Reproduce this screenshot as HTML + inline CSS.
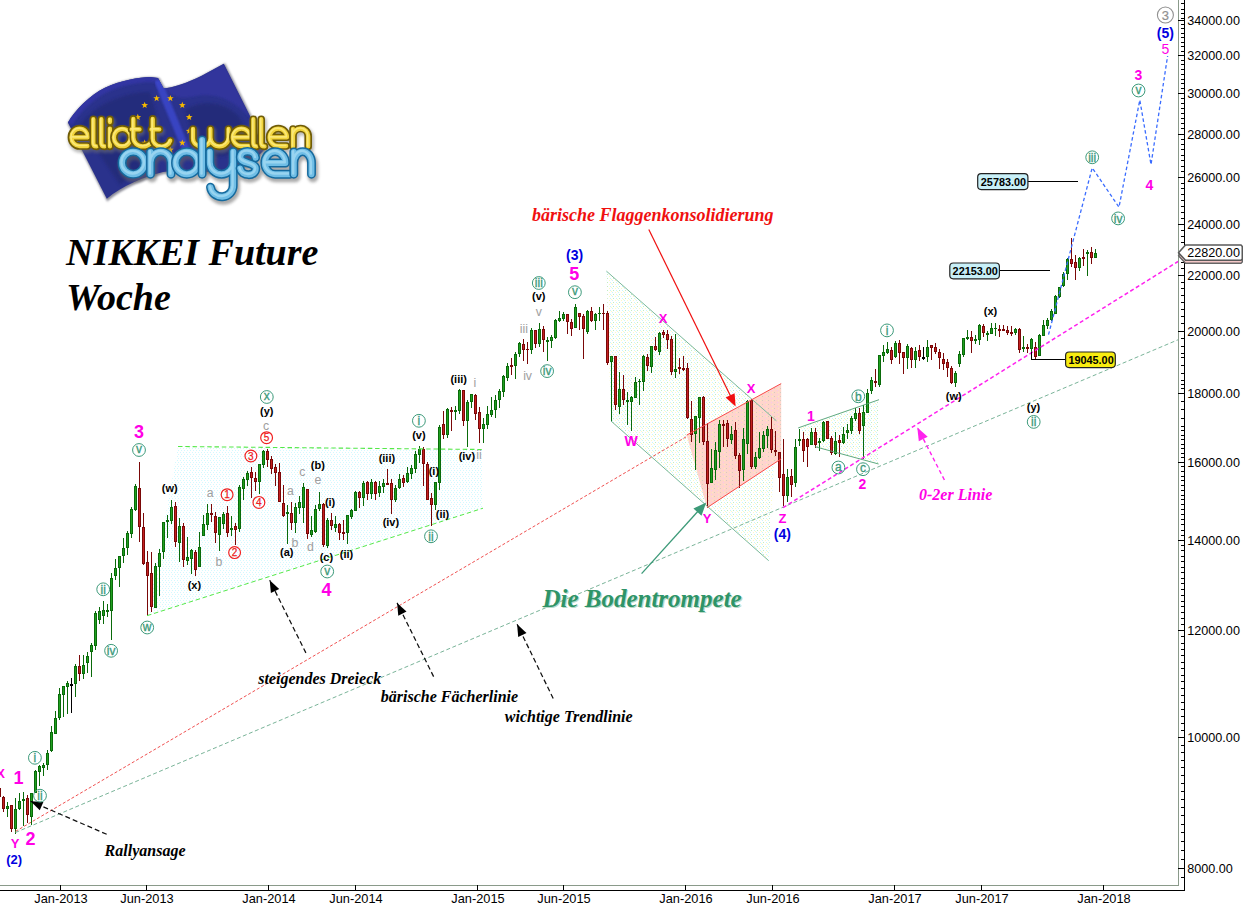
<!DOCTYPE html>
<html><head><meta charset="utf-8"><title>NIKKEI Future Woche</title>
<style>
html,body{margin:0;padding:0;background:#fff;}
body{width:1243px;height:907px;overflow:hidden;font-family:"Liberation Sans",sans-serif;}
svg{display:block;}
svg text{font-family:"Liberation Sans",sans-serif;}
svg text.sf{font-family:"Liberation Serif",serif;font-weight:bold;font-style:italic;}
</style></head><body>
<svg width="1243" height="907" viewBox="0 0 1243 907">
<defs>
<pattern id="pcyan" width="6" height="4" patternUnits="userSpaceOnUse"><rect width="6" height="4" fill="#fff"/><g fill="#d2f9fe" shape-rendering="crispEdges"><rect x="0" y="0" width="1" height="1"/><rect x="3" y="0" width="1" height="1"/><rect x="1" y="2" width="1" height="1"/><rect x="4" y="2" width="1" height="1"/></g></pattern>
<pattern id="pgreen" width="6" height="4" patternUnits="userSpaceOnUse"><rect width="6" height="4" fill="#fff"/><g shape-rendering="crispEdges"><rect x="0" y="0" width="1" height="1" fill="#c8f6fc"/><rect x="3" y="0" width="1" height="1" fill="#fcfac4"/><rect x="1" y="2" width="1" height="1" fill="#c0eec0"/><rect x="4" y="2" width="1" height="1" fill="#c8f6fc"/><rect x="5" y="3" width="1" height="1" fill="#fcfac4"/></g></pattern>
<pattern id="ppink" width="6" height="4" patternUnits="userSpaceOnUse"><rect width="6" height="4" fill="#ffd5cb"/><g shape-rendering="crispEdges"><rect x="0" y="0" width="1" height="1" fill="#d4ccc0"/><rect x="3" y="2" width="1" height="1" fill="#f8c8ec"/><rect x="4" y="0" width="1" height="1" fill="#fde8c0"/></g></pattern>
</defs>
<polygon points="147,616 178,446.5 483,449.5 483,508.2" fill="url(#pcyan)"/>
<polygon points="606.4,271.1 776.4,420.8 768.7,560.7 611,421" fill="url(#pgreen)"/>
<polygon points="686.7,435.1 781.2,383.6 781.2,458.8 707,507.7" fill="url(#ppink)"/>
<polygon points="798.2,427.9 879,399.7 879,464 815,446.7" fill="url(#pgreen)"/>
<g shape-rendering="crispEdges">
<rect x="-1" y="788" width="1" height="9" fill="#7a0808"/>
<rect x="-2" y="788" width="3" height="9" fill="#7a0808"/>
<rect x="-1" y="789" width="1" height="7" fill="#c42020"/>
<rect x="3" y="796" width="1" height="16" fill="#7a0808"/>
<rect x="2" y="797" width="3" height="12" fill="#7a0808"/>
<rect x="3" y="798" width="1" height="10" fill="#c42020"/>
<rect x="7" y="802" width="1" height="15" fill="#0a6a0a"/>
<rect x="6" y="806" width="3" height="3" fill="#0a6a0a"/>
<rect x="7" y="807" width="1" height="1" fill="#1fa01f"/>
<rect x="11" y="805" width="1" height="27" fill="#7a0808"/>
<rect x="10" y="805" width="3" height="24" fill="#7a0808"/>
<rect x="11" y="806" width="1" height="22" fill="#c42020"/>
<rect x="15" y="798" width="1" height="36" fill="#0a6a0a"/>
<rect x="14" y="809" width="3" height="20" fill="#0a6a0a"/>
<rect x="15" y="810" width="1" height="18" fill="#1fa01f"/>
<rect x="19" y="793" width="1" height="17" fill="#0a6a0a"/>
<rect x="18" y="801" width="3" height="8" fill="#0a6a0a"/>
<rect x="19" y="802" width="1" height="6" fill="#1fa01f"/>
<rect x="23" y="792" width="1" height="34" fill="#0a6a0a"/>
<rect x="22" y="799" width="3" height="2" fill="#0a6a0a"/>
<rect x="27" y="795" width="1" height="28" fill="#7a0808"/>
<rect x="26" y="798" width="3" height="17" fill="#7a0808"/>
<rect x="27" y="799" width="1" height="15" fill="#c42020"/>
<rect x="31" y="793" width="1" height="32" fill="#0a6a0a"/>
<rect x="30" y="793" width="3" height="24" fill="#0a6a0a"/>
<rect x="31" y="794" width="1" height="22" fill="#1fa01f"/>
<rect x="35" y="770" width="1" height="23" fill="#0a6a0a"/>
<rect x="34" y="771" width="3" height="22" fill="#0a6a0a"/>
<rect x="35" y="772" width="1" height="20" fill="#1fa01f"/>
<rect x="39" y="765" width="1" height="21" fill="#0a6a0a"/>
<rect x="38" y="766" width="3" height="6" fill="#0a6a0a"/>
<rect x="39" y="767" width="1" height="4" fill="#1fa01f"/>
<rect x="43" y="763" width="1" height="13" fill="#0a6a0a"/>
<rect x="42" y="765" width="3" height="3" fill="#0a6a0a"/>
<rect x="43" y="766" width="1" height="1" fill="#1fa01f"/>
<rect x="47" y="750" width="1" height="20" fill="#0a6a0a"/>
<rect x="46" y="753" width="3" height="12" fill="#0a6a0a"/>
<rect x="47" y="754" width="1" height="10" fill="#1fa01f"/>
<rect x="51" y="726" width="1" height="26" fill="#0a6a0a"/>
<rect x="50" y="732" width="3" height="19" fill="#0a6a0a"/>
<rect x="51" y="733" width="1" height="17" fill="#1fa01f"/>
<rect x="55" y="711" width="1" height="23" fill="#0a6a0a"/>
<rect x="54" y="718" width="3" height="16" fill="#0a6a0a"/>
<rect x="55" y="719" width="1" height="14" fill="#1fa01f"/>
<rect x="59" y="688" width="1" height="32" fill="#0a6a0a"/>
<rect x="58" y="694" width="3" height="24" fill="#0a6a0a"/>
<rect x="59" y="695" width="1" height="22" fill="#1fa01f"/>
<rect x="63" y="686" width="1" height="31" fill="#0a6a0a"/>
<rect x="62" y="686" width="3" height="9" fill="#0a6a0a"/>
<rect x="63" y="687" width="1" height="7" fill="#1fa01f"/>
<rect x="67" y="681" width="1" height="33" fill="#0a6a0a"/>
<rect x="66" y="683" width="3" height="4" fill="#0a6a0a"/>
<rect x="67" y="684" width="1" height="2" fill="#1fa01f"/>
<rect x="71" y="678" width="1" height="35" fill="#000"/>
<rect x="70" y="684" width="3" height="2" fill="#000"/>
<rect x="75" y="664" width="1" height="33" fill="#0a6a0a"/>
<rect x="74" y="666" width="3" height="18" fill="#0a6a0a"/>
<rect x="75" y="667" width="1" height="16" fill="#1fa01f"/>
<rect x="79" y="655" width="1" height="26" fill="#7a0808"/>
<rect x="78" y="666" width="3" height="8" fill="#7a0808"/>
<rect x="79" y="667" width="1" height="6" fill="#c42020"/>
<rect x="83" y="655" width="1" height="24" fill="#0a6a0a"/>
<rect x="82" y="665" width="3" height="9" fill="#0a6a0a"/>
<rect x="83" y="666" width="1" height="7" fill="#1fa01f"/>
<rect x="87" y="652" width="1" height="21" fill="#0a6a0a"/>
<rect x="86" y="656" width="3" height="7" fill="#0a6a0a"/>
<rect x="87" y="657" width="1" height="5" fill="#1fa01f"/>
<rect x="91" y="643" width="1" height="34" fill="#0a6a0a"/>
<rect x="90" y="645" width="3" height="7" fill="#0a6a0a"/>
<rect x="91" y="646" width="1" height="5" fill="#1fa01f"/>
<rect x="95" y="611" width="1" height="39" fill="#0a6a0a"/>
<rect x="94" y="613" width="3" height="33" fill="#0a6a0a"/>
<rect x="95" y="614" width="1" height="31" fill="#1fa01f"/>
<rect x="99" y="607" width="1" height="17" fill="#0a6a0a"/>
<rect x="98" y="611" width="3" height="9" fill="#0a6a0a"/>
<rect x="99" y="612" width="1" height="7" fill="#1fa01f"/>
<rect x="103" y="601" width="1" height="23" fill="#0a6a0a"/>
<rect x="102" y="610" width="3" height="6" fill="#0a6a0a"/>
<rect x="103" y="611" width="1" height="4" fill="#1fa01f"/>
<rect x="107" y="604" width="1" height="13" fill="#0a6a0a"/>
<rect x="106" y="610" width="3" height="2" fill="#0a6a0a"/>
<rect x="111" y="573" width="1" height="67" fill="#0a6a0a"/>
<rect x="110" y="578" width="3" height="33" fill="#0a6a0a"/>
<rect x="111" y="579" width="1" height="31" fill="#1fa01f"/>
<rect x="115" y="559" width="1" height="21" fill="#0a6a0a"/>
<rect x="114" y="568" width="3" height="8" fill="#0a6a0a"/>
<rect x="115" y="569" width="1" height="6" fill="#1fa01f"/>
<rect x="119" y="556" width="1" height="31" fill="#0a6a0a"/>
<rect x="118" y="556" width="3" height="12" fill="#0a6a0a"/>
<rect x="119" y="557" width="1" height="10" fill="#1fa01f"/>
<rect x="123" y="538" width="1" height="25" fill="#0a6a0a"/>
<rect x="122" y="548" width="3" height="8" fill="#0a6a0a"/>
<rect x="123" y="549" width="1" height="6" fill="#1fa01f"/>
<rect x="127" y="531" width="1" height="24" fill="#0a6a0a"/>
<rect x="126" y="533" width="3" height="15" fill="#0a6a0a"/>
<rect x="127" y="534" width="1" height="13" fill="#1fa01f"/>
<rect x="131" y="507" width="1" height="31" fill="#0a6a0a"/>
<rect x="130" y="509" width="3" height="25" fill="#0a6a0a"/>
<rect x="131" y="510" width="1" height="23" fill="#1fa01f"/>
<rect x="135" y="484" width="1" height="27" fill="#0a6a0a"/>
<rect x="134" y="486" width="3" height="24" fill="#0a6a0a"/>
<rect x="135" y="487" width="1" height="22" fill="#1fa01f"/>
<rect x="139" y="462" width="1" height="80" fill="#7a0808"/>
<rect x="138" y="488" width="3" height="39" fill="#7a0808"/>
<rect x="139" y="489" width="1" height="37" fill="#c42020"/>
<rect x="143" y="513" width="1" height="52" fill="#7a0808"/>
<rect x="142" y="527" width="3" height="37" fill="#7a0808"/>
<rect x="143" y="528" width="1" height="35" fill="#c42020"/>
<rect x="147" y="551" width="1" height="65" fill="#7a0808"/>
<rect x="146" y="562" width="3" height="14" fill="#7a0808"/>
<rect x="147" y="563" width="1" height="12" fill="#c42020"/>
<rect x="151" y="552" width="1" height="60" fill="#7a0808"/>
<rect x="150" y="573" width="3" height="34" fill="#7a0808"/>
<rect x="151" y="574" width="1" height="32" fill="#c42020"/>
<rect x="155" y="563" width="1" height="45" fill="#0a6a0a"/>
<rect x="154" y="566" width="3" height="42" fill="#0a6a0a"/>
<rect x="155" y="567" width="1" height="40" fill="#1fa01f"/>
<rect x="159" y="549" width="1" height="47" fill="#0a6a0a"/>
<rect x="158" y="553" width="3" height="14" fill="#0a6a0a"/>
<rect x="159" y="554" width="1" height="12" fill="#1fa01f"/>
<rect x="163" y="522" width="1" height="37" fill="#0a6a0a"/>
<rect x="162" y="522" width="3" height="30" fill="#0a6a0a"/>
<rect x="163" y="523" width="1" height="28" fill="#1fa01f"/>
<rect x="167" y="515" width="1" height="23" fill="#0a6a0a"/>
<rect x="166" y="520" width="3" height="2" fill="#0a6a0a"/>
<rect x="171" y="500" width="1" height="24" fill="#0a6a0a"/>
<rect x="170" y="507" width="3" height="14" fill="#0a6a0a"/>
<rect x="171" y="508" width="1" height="12" fill="#1fa01f"/>
<rect x="175" y="502" width="1" height="45" fill="#7a0808"/>
<rect x="174" y="506" width="3" height="36" fill="#7a0808"/>
<rect x="175" y="507" width="1" height="34" fill="#c42020"/>
<rect x="179" y="518" width="1" height="44" fill="#0a6a0a"/>
<rect x="178" y="526" width="3" height="17" fill="#0a6a0a"/>
<rect x="179" y="527" width="1" height="15" fill="#1fa01f"/>
<rect x="183" y="523" width="1" height="44" fill="#7a0808"/>
<rect x="182" y="526" width="3" height="34" fill="#7a0808"/>
<rect x="183" y="527" width="1" height="32" fill="#c42020"/>
<rect x="187" y="537" width="1" height="28" fill="#0a6a0a"/>
<rect x="186" y="557" width="3" height="4" fill="#0a6a0a"/>
<rect x="187" y="558" width="1" height="2" fill="#1fa01f"/>
<rect x="191" y="549" width="1" height="25" fill="#0a6a0a"/>
<rect x="190" y="550" width="3" height="9" fill="#0a6a0a"/>
<rect x="191" y="551" width="1" height="7" fill="#1fa01f"/>
<rect x="195" y="550" width="1" height="26" fill="#7a0808"/>
<rect x="194" y="552" width="3" height="18" fill="#7a0808"/>
<rect x="195" y="553" width="1" height="16" fill="#c42020"/>
<rect x="199" y="532" width="1" height="35" fill="#0a6a0a"/>
<rect x="198" y="547" width="3" height="20" fill="#0a6a0a"/>
<rect x="199" y="548" width="1" height="18" fill="#1fa01f"/>
<rect x="203" y="515" width="1" height="21" fill="#0a6a0a"/>
<rect x="202" y="524" width="3" height="12" fill="#0a6a0a"/>
<rect x="203" y="525" width="1" height="10" fill="#1fa01f"/>
<rect x="207" y="504" width="1" height="26" fill="#0a6a0a"/>
<rect x="206" y="513" width="3" height="12" fill="#0a6a0a"/>
<rect x="207" y="514" width="1" height="10" fill="#1fa01f"/>
<rect x="211" y="504" width="1" height="18" fill="#7a0808"/>
<rect x="210" y="513" width="3" height="2" fill="#7a0808"/>
<rect x="215" y="512" width="1" height="31" fill="#7a0808"/>
<rect x="214" y="516" width="3" height="17" fill="#7a0808"/>
<rect x="215" y="517" width="1" height="15" fill="#c42020"/>
<rect x="219" y="517" width="1" height="34" fill="#0a6a0a"/>
<rect x="218" y="517" width="3" height="18" fill="#0a6a0a"/>
<rect x="219" y="518" width="1" height="16" fill="#1fa01f"/>
<rect x="223" y="512" width="1" height="17" fill="#0a6a0a"/>
<rect x="222" y="514" width="3" height="10" fill="#0a6a0a"/>
<rect x="223" y="515" width="1" height="8" fill="#1fa01f"/>
<rect x="227" y="506" width="1" height="31" fill="#7a0808"/>
<rect x="226" y="513" width="3" height="20" fill="#7a0808"/>
<rect x="227" y="514" width="1" height="18" fill="#c42020"/>
<rect x="231" y="516" width="1" height="20" fill="#0a6a0a"/>
<rect x="230" y="528" width="3" height="2" fill="#0a6a0a"/>
<rect x="235" y="523" width="1" height="22" fill="#7a0808"/>
<rect x="234" y="526" width="3" height="4" fill="#7a0808"/>
<rect x="235" y="527" width="1" height="2" fill="#c42020"/>
<rect x="239" y="485" width="1" height="47" fill="#0a6a0a"/>
<rect x="238" y="487" width="3" height="42" fill="#0a6a0a"/>
<rect x="239" y="488" width="1" height="40" fill="#1fa01f"/>
<rect x="243" y="477" width="1" height="23" fill="#0a6a0a"/>
<rect x="242" y="479" width="3" height="10" fill="#0a6a0a"/>
<rect x="243" y="480" width="1" height="8" fill="#1fa01f"/>
<rect x="247" y="471" width="1" height="15" fill="#0a6a0a"/>
<rect x="246" y="473" width="3" height="7" fill="#0a6a0a"/>
<rect x="247" y="474" width="1" height="5" fill="#1fa01f"/>
<rect x="251" y="467" width="1" height="31" fill="#7a0808"/>
<rect x="250" y="472" width="3" height="6" fill="#7a0808"/>
<rect x="251" y="473" width="1" height="4" fill="#c42020"/>
<rect x="255" y="472" width="1" height="19" fill="#7a0808"/>
<rect x="254" y="478" width="3" height="4" fill="#7a0808"/>
<rect x="255" y="479" width="1" height="2" fill="#c42020"/>
<rect x="259" y="464" width="1" height="30" fill="#0a6a0a"/>
<rect x="258" y="464" width="3" height="18" fill="#0a6a0a"/>
<rect x="259" y="465" width="1" height="16" fill="#1fa01f"/>
<rect x="263" y="450" width="1" height="18" fill="#0a6a0a"/>
<rect x="262" y="451" width="3" height="14" fill="#0a6a0a"/>
<rect x="263" y="452" width="1" height="12" fill="#1fa01f"/>
<rect x="267" y="449" width="1" height="18" fill="#7a0808"/>
<rect x="266" y="451" width="3" height="9" fill="#7a0808"/>
<rect x="267" y="452" width="1" height="7" fill="#c42020"/>
<rect x="271" y="456" width="1" height="18" fill="#7a0808"/>
<rect x="270" y="459" width="3" height="10" fill="#7a0808"/>
<rect x="271" y="460" width="1" height="8" fill="#c42020"/>
<rect x="275" y="464" width="1" height="22" fill="#7a0808"/>
<rect x="274" y="467" width="3" height="6" fill="#7a0808"/>
<rect x="275" y="468" width="1" height="4" fill="#c42020"/>
<rect x="279" y="463" width="1" height="39" fill="#7a0808"/>
<rect x="278" y="472" width="3" height="30" fill="#7a0808"/>
<rect x="279" y="473" width="1" height="28" fill="#c42020"/>
<rect x="283" y="485" width="1" height="32" fill="#7a0808"/>
<rect x="282" y="503" width="3" height="13" fill="#7a0808"/>
<rect x="283" y="504" width="1" height="11" fill="#c42020"/>
<rect x="287" y="505" width="1" height="39" fill="#0a6a0a"/>
<rect x="286" y="512" width="3" height="2" fill="#0a6a0a"/>
<rect x="291" y="502" width="1" height="28" fill="#7a0808"/>
<rect x="290" y="513" width="3" height="10" fill="#7a0808"/>
<rect x="291" y="514" width="1" height="8" fill="#c42020"/>
<rect x="295" y="503" width="1" height="30" fill="#0a6a0a"/>
<rect x="294" y="507" width="3" height="16" fill="#0a6a0a"/>
<rect x="295" y="508" width="1" height="14" fill="#1fa01f"/>
<rect x="299" y="496" width="1" height="18" fill="#0a6a0a"/>
<rect x="298" y="502" width="3" height="6" fill="#0a6a0a"/>
<rect x="299" y="503" width="1" height="4" fill="#1fa01f"/>
<rect x="303" y="483" width="1" height="40" fill="#0a6a0a"/>
<rect x="302" y="487" width="3" height="21" fill="#0a6a0a"/>
<rect x="303" y="488" width="1" height="19" fill="#1fa01f"/>
<rect x="307" y="489" width="1" height="50" fill="#7a0808"/>
<rect x="306" y="489" width="3" height="45" fill="#7a0808"/>
<rect x="307" y="490" width="1" height="43" fill="#c42020"/>
<rect x="311" y="516" width="1" height="21" fill="#0a6a0a"/>
<rect x="310" y="530" width="3" height="5" fill="#0a6a0a"/>
<rect x="311" y="531" width="1" height="3" fill="#1fa01f"/>
<rect x="315" y="505" width="1" height="28" fill="#0a6a0a"/>
<rect x="314" y="509" width="3" height="23" fill="#0a6a0a"/>
<rect x="315" y="510" width="1" height="21" fill="#1fa01f"/>
<rect x="319" y="492" width="1" height="19" fill="#0a6a0a"/>
<rect x="318" y="504" width="3" height="5" fill="#0a6a0a"/>
<rect x="319" y="505" width="1" height="3" fill="#1fa01f"/>
<rect x="323" y="503" width="1" height="44" fill="#7a0808"/>
<rect x="322" y="504" width="3" height="41" fill="#7a0808"/>
<rect x="323" y="505" width="1" height="39" fill="#c42020"/>
<rect x="327" y="518" width="1" height="30" fill="#0a6a0a"/>
<rect x="326" y="520" width="3" height="26" fill="#0a6a0a"/>
<rect x="327" y="521" width="1" height="24" fill="#1fa01f"/>
<rect x="331" y="513" width="1" height="17" fill="#7a0808"/>
<rect x="330" y="520" width="3" height="6" fill="#7a0808"/>
<rect x="331" y="521" width="1" height="4" fill="#c42020"/>
<rect x="335" y="516" width="1" height="16" fill="#0a6a0a"/>
<rect x="334" y="524" width="3" height="4" fill="#0a6a0a"/>
<rect x="335" y="525" width="1" height="2" fill="#1fa01f"/>
<rect x="339" y="523" width="1" height="17" fill="#7a0808"/>
<rect x="338" y="524" width="3" height="9" fill="#7a0808"/>
<rect x="339" y="525" width="1" height="7" fill="#c42020"/>
<rect x="343" y="520" width="1" height="20" fill="#7a0808"/>
<rect x="342" y="532" width="3" height="2" fill="#7a0808"/>
<rect x="347" y="515" width="1" height="29" fill="#0a6a0a"/>
<rect x="346" y="515" width="3" height="18" fill="#0a6a0a"/>
<rect x="347" y="516" width="1" height="16" fill="#1fa01f"/>
<rect x="351" y="509" width="1" height="10" fill="#0a6a0a"/>
<rect x="350" y="510" width="3" height="7" fill="#0a6a0a"/>
<rect x="351" y="511" width="1" height="5" fill="#1fa01f"/>
<rect x="355" y="491" width="1" height="20" fill="#0a6a0a"/>
<rect x="354" y="492" width="3" height="19" fill="#0a6a0a"/>
<rect x="355" y="493" width="1" height="17" fill="#1fa01f"/>
<rect x="359" y="491" width="1" height="17" fill="#7a0808"/>
<rect x="358" y="492" width="3" height="6" fill="#7a0808"/>
<rect x="359" y="493" width="1" height="4" fill="#c42020"/>
<rect x="363" y="481" width="1" height="25" fill="#0a6a0a"/>
<rect x="362" y="483" width="3" height="15" fill="#0a6a0a"/>
<rect x="363" y="484" width="1" height="13" fill="#1fa01f"/>
<rect x="367" y="481" width="1" height="19" fill="#7a0808"/>
<rect x="366" y="482" width="3" height="12" fill="#7a0808"/>
<rect x="367" y="483" width="1" height="10" fill="#c42020"/>
<rect x="371" y="479" width="1" height="20" fill="#0a6a0a"/>
<rect x="370" y="482" width="3" height="12" fill="#0a6a0a"/>
<rect x="371" y="483" width="1" height="10" fill="#1fa01f"/>
<rect x="375" y="481" width="1" height="19" fill="#7a0808"/>
<rect x="374" y="482" width="3" height="12" fill="#7a0808"/>
<rect x="375" y="483" width="1" height="10" fill="#c42020"/>
<rect x="379" y="481" width="1" height="16" fill="#0a6a0a"/>
<rect x="378" y="486" width="3" height="7" fill="#0a6a0a"/>
<rect x="379" y="487" width="1" height="5" fill="#1fa01f"/>
<rect x="383" y="479" width="1" height="14" fill="#0a6a0a"/>
<rect x="382" y="483" width="3" height="4" fill="#0a6a0a"/>
<rect x="383" y="484" width="1" height="2" fill="#1fa01f"/>
<rect x="387" y="469" width="1" height="16" fill="#7a0808"/>
<rect x="386" y="483" width="3" height="2" fill="#7a0808"/>
<rect x="391" y="479" width="1" height="35" fill="#7a0808"/>
<rect x="390" y="483" width="3" height="17" fill="#7a0808"/>
<rect x="391" y="484" width="1" height="15" fill="#c42020"/>
<rect x="395" y="485" width="1" height="17" fill="#0a6a0a"/>
<rect x="394" y="488" width="3" height="12" fill="#0a6a0a"/>
<rect x="395" y="489" width="1" height="10" fill="#1fa01f"/>
<rect x="399" y="474" width="1" height="15" fill="#0a6a0a"/>
<rect x="398" y="479" width="3" height="9" fill="#0a6a0a"/>
<rect x="399" y="480" width="1" height="7" fill="#1fa01f"/>
<rect x="403" y="475" width="1" height="12" fill="#7a0808"/>
<rect x="402" y="478" width="3" height="5" fill="#7a0808"/>
<rect x="403" y="479" width="1" height="3" fill="#c42020"/>
<rect x="407" y="467" width="1" height="16" fill="#0a6a0a"/>
<rect x="406" y="473" width="3" height="9" fill="#0a6a0a"/>
<rect x="407" y="474" width="1" height="7" fill="#1fa01f"/>
<rect x="411" y="465" width="1" height="14" fill="#0a6a0a"/>
<rect x="410" y="468" width="3" height="6" fill="#0a6a0a"/>
<rect x="411" y="469" width="1" height="4" fill="#1fa01f"/>
<rect x="415" y="451" width="1" height="22" fill="#0a6a0a"/>
<rect x="414" y="454" width="3" height="15" fill="#0a6a0a"/>
<rect x="415" y="455" width="1" height="13" fill="#1fa01f"/>
<rect x="419" y="446" width="1" height="17" fill="#0a6a0a"/>
<rect x="418" y="449" width="3" height="6" fill="#0a6a0a"/>
<rect x="419" y="450" width="1" height="4" fill="#1fa01f"/>
<rect x="423" y="447" width="1" height="39" fill="#7a0808"/>
<rect x="422" y="449" width="3" height="15" fill="#7a0808"/>
<rect x="423" y="450" width="1" height="13" fill="#c42020"/>
<rect x="427" y="462" width="1" height="38" fill="#7a0808"/>
<rect x="426" y="464" width="3" height="36" fill="#7a0808"/>
<rect x="427" y="465" width="1" height="34" fill="#c42020"/>
<rect x="431" y="493" width="1" height="33" fill="#7a0808"/>
<rect x="430" y="498" width="3" height="7" fill="#7a0808"/>
<rect x="431" y="499" width="1" height="5" fill="#c42020"/>
<rect x="435" y="482" width="1" height="28" fill="#0a6a0a"/>
<rect x="434" y="482" width="3" height="23" fill="#0a6a0a"/>
<rect x="435" y="483" width="1" height="21" fill="#1fa01f"/>
<rect x="439" y="425" width="1" height="65" fill="#0a6a0a"/>
<rect x="438" y="427" width="3" height="56" fill="#0a6a0a"/>
<rect x="439" y="428" width="1" height="54" fill="#1fa01f"/>
<rect x="443" y="411" width="1" height="28" fill="#7a0808"/>
<rect x="442" y="424" width="3" height="11" fill="#7a0808"/>
<rect x="443" y="425" width="1" height="9" fill="#c42020"/>
<rect x="447" y="408" width="1" height="30" fill="#0a6a0a"/>
<rect x="446" y="409" width="3" height="26" fill="#0a6a0a"/>
<rect x="447" y="410" width="1" height="24" fill="#1fa01f"/>
<rect x="451" y="407" width="1" height="24" fill="#7a0808"/>
<rect x="450" y="410" width="3" height="2" fill="#7a0808"/>
<rect x="455" y="406" width="1" height="14" fill="#0a6a0a"/>
<rect x="454" y="410" width="3" height="2" fill="#0a6a0a"/>
<rect x="459" y="389" width="1" height="25" fill="#0a6a0a"/>
<rect x="458" y="390" width="3" height="21" fill="#0a6a0a"/>
<rect x="459" y="391" width="1" height="19" fill="#1fa01f"/>
<rect x="463" y="390" width="1" height="36" fill="#7a0808"/>
<rect x="462" y="390" width="3" height="31" fill="#7a0808"/>
<rect x="463" y="391" width="1" height="29" fill="#c42020"/>
<rect x="467" y="400" width="1" height="47" fill="#0a6a0a"/>
<rect x="466" y="402" width="3" height="19" fill="#0a6a0a"/>
<rect x="467" y="403" width="1" height="17" fill="#1fa01f"/>
<rect x="471" y="394" width="1" height="14" fill="#0a6a0a"/>
<rect x="470" y="394" width="3" height="8" fill="#0a6a0a"/>
<rect x="471" y="395" width="1" height="6" fill="#1fa01f"/>
<rect x="475" y="394" width="1" height="26" fill="#7a0808"/>
<rect x="474" y="395" width="3" height="19" fill="#7a0808"/>
<rect x="475" y="396" width="1" height="17" fill="#c42020"/>
<rect x="479" y="407" width="1" height="36" fill="#7a0808"/>
<rect x="478" y="412" width="3" height="17" fill="#7a0808"/>
<rect x="479" y="413" width="1" height="15" fill="#c42020"/>
<rect x="483" y="418" width="1" height="25" fill="#0a6a0a"/>
<rect x="482" y="424" width="3" height="5" fill="#0a6a0a"/>
<rect x="483" y="425" width="1" height="3" fill="#1fa01f"/>
<rect x="487" y="406" width="1" height="23" fill="#0a6a0a"/>
<rect x="486" y="414" width="3" height="11" fill="#0a6a0a"/>
<rect x="487" y="415" width="1" height="9" fill="#1fa01f"/>
<rect x="491" y="397" width="1" height="20" fill="#0a6a0a"/>
<rect x="490" y="410" width="3" height="5" fill="#0a6a0a"/>
<rect x="491" y="411" width="1" height="3" fill="#1fa01f"/>
<rect x="495" y="395" width="1" height="23" fill="#0a6a0a"/>
<rect x="494" y="400" width="3" height="10" fill="#0a6a0a"/>
<rect x="495" y="401" width="1" height="8" fill="#1fa01f"/>
<rect x="499" y="389" width="1" height="19" fill="#0a6a0a"/>
<rect x="498" y="391" width="3" height="9" fill="#0a6a0a"/>
<rect x="499" y="392" width="1" height="7" fill="#1fa01f"/>
<rect x="503" y="375" width="1" height="22" fill="#0a6a0a"/>
<rect x="502" y="376" width="3" height="16" fill="#0a6a0a"/>
<rect x="503" y="377" width="1" height="14" fill="#1fa01f"/>
<rect x="507" y="363" width="1" height="18" fill="#0a6a0a"/>
<rect x="506" y="366" width="3" height="12" fill="#0a6a0a"/>
<rect x="507" y="367" width="1" height="10" fill="#1fa01f"/>
<rect x="511" y="358" width="1" height="17" fill="#7a0808"/>
<rect x="510" y="365" width="3" height="2" fill="#7a0808"/>
<rect x="515" y="352" width="1" height="27" fill="#0a6a0a"/>
<rect x="514" y="354" width="3" height="12" fill="#0a6a0a"/>
<rect x="515" y="355" width="1" height="10" fill="#1fa01f"/>
<rect x="519" y="342" width="1" height="15" fill="#0a6a0a"/>
<rect x="518" y="343" width="3" height="11" fill="#0a6a0a"/>
<rect x="519" y="344" width="1" height="9" fill="#1fa01f"/>
<rect x="523" y="339" width="1" height="22" fill="#7a0808"/>
<rect x="522" y="344" width="3" height="6" fill="#7a0808"/>
<rect x="523" y="345" width="1" height="4" fill="#c42020"/>
<rect x="527" y="342" width="1" height="22" fill="#7a0808"/>
<rect x="526" y="349" width="3" height="1" fill="#7a0808"/>
<rect x="531" y="328" width="1" height="26" fill="#0a6a0a"/>
<rect x="530" y="330" width="3" height="20" fill="#0a6a0a"/>
<rect x="531" y="331" width="1" height="18" fill="#1fa01f"/>
<rect x="535" y="330" width="1" height="18" fill="#7a0808"/>
<rect x="534" y="330" width="3" height="14" fill="#7a0808"/>
<rect x="535" y="331" width="1" height="12" fill="#c42020"/>
<rect x="539" y="323" width="1" height="24" fill="#0a6a0a"/>
<rect x="538" y="329" width="3" height="15" fill="#0a6a0a"/>
<rect x="539" y="330" width="1" height="13" fill="#1fa01f"/>
<rect x="543" y="326" width="1" height="26" fill="#7a0808"/>
<rect x="542" y="329" width="3" height="11" fill="#7a0808"/>
<rect x="543" y="330" width="1" height="9" fill="#c42020"/>
<rect x="547" y="337" width="1" height="24" fill="#0a6a0a"/>
<rect x="546" y="340" width="3" height="2" fill="#0a6a0a"/>
<rect x="551" y="335" width="1" height="13" fill="#0a6a0a"/>
<rect x="550" y="337" width="3" height="4" fill="#0a6a0a"/>
<rect x="551" y="338" width="1" height="2" fill="#1fa01f"/>
<rect x="555" y="319" width="1" height="20" fill="#0a6a0a"/>
<rect x="554" y="320" width="3" height="18" fill="#0a6a0a"/>
<rect x="555" y="321" width="1" height="16" fill="#1fa01f"/>
<rect x="559" y="311" width="1" height="11" fill="#0a6a0a"/>
<rect x="558" y="318" width="3" height="3" fill="#0a6a0a"/>
<rect x="559" y="319" width="1" height="1" fill="#1fa01f"/>
<rect x="563" y="312" width="1" height="9" fill="#0a6a0a"/>
<rect x="562" y="314" width="3" height="5" fill="#0a6a0a"/>
<rect x="563" y="315" width="1" height="3" fill="#1fa01f"/>
<rect x="567" y="314" width="1" height="20" fill="#7a0808"/>
<rect x="566" y="314" width="3" height="8" fill="#7a0808"/>
<rect x="567" y="315" width="1" height="6" fill="#c42020"/>
<rect x="571" y="319" width="1" height="17" fill="#7a0808"/>
<rect x="570" y="322" width="3" height="7" fill="#7a0808"/>
<rect x="571" y="323" width="1" height="5" fill="#c42020"/>
<rect x="575" y="304" width="1" height="24" fill="#0a6a0a"/>
<rect x="574" y="307" width="3" height="21" fill="#0a6a0a"/>
<rect x="575" y="308" width="1" height="19" fill="#1fa01f"/>
<rect x="579" y="313" width="1" height="17" fill="#7a0808"/>
<rect x="578" y="313" width="3" height="4" fill="#7a0808"/>
<rect x="579" y="314" width="1" height="2" fill="#c42020"/>
<rect x="583" y="314" width="1" height="45" fill="#7a0808"/>
<rect x="582" y="316" width="3" height="13" fill="#7a0808"/>
<rect x="583" y="317" width="1" height="11" fill="#c42020"/>
<rect x="587" y="310" width="1" height="24" fill="#0a6a0a"/>
<rect x="586" y="311" width="3" height="21" fill="#0a6a0a"/>
<rect x="587" y="312" width="1" height="19" fill="#1fa01f"/>
<rect x="591" y="307" width="1" height="15" fill="#7a0808"/>
<rect x="590" y="311" width="3" height="10" fill="#7a0808"/>
<rect x="591" y="312" width="1" height="8" fill="#c42020"/>
<rect x="595" y="313" width="1" height="17" fill="#0a6a0a"/>
<rect x="594" y="314" width="3" height="7" fill="#0a6a0a"/>
<rect x="595" y="315" width="1" height="5" fill="#1fa01f"/>
<rect x="599" y="307" width="1" height="14" fill="#0a6a0a"/>
<rect x="598" y="313" width="3" height="1" fill="#0a6a0a"/>
<rect x="603" y="304" width="1" height="26" fill="#7a0808"/>
<rect x="602" y="313" width="3" height="1" fill="#7a0808"/>
<rect x="607" y="311" width="1" height="54" fill="#7a0808"/>
<rect x="606" y="313" width="3" height="50" fill="#7a0808"/>
<rect x="607" y="314" width="1" height="48" fill="#c42020"/>
<rect x="611" y="356" width="1" height="66" fill="#0a6a0a"/>
<rect x="610" y="356" width="3" height="6" fill="#0a6a0a"/>
<rect x="611" y="357" width="1" height="4" fill="#1fa01f"/>
<rect x="615" y="356" width="1" height="54" fill="#7a0808"/>
<rect x="614" y="356" width="3" height="49" fill="#7a0808"/>
<rect x="615" y="357" width="1" height="47" fill="#c42020"/>
<rect x="619" y="372" width="1" height="42" fill="#0a6a0a"/>
<rect x="618" y="389" width="3" height="18" fill="#0a6a0a"/>
<rect x="619" y="390" width="1" height="16" fill="#1fa01f"/>
<rect x="623" y="375" width="1" height="30" fill="#7a0808"/>
<rect x="622" y="389" width="3" height="11" fill="#7a0808"/>
<rect x="623" y="390" width="1" height="9" fill="#c42020"/>
<rect x="627" y="392" width="1" height="33" fill="#0a6a0a"/>
<rect x="626" y="400" width="3" height="2" fill="#0a6a0a"/>
<rect x="631" y="396" width="1" height="35" fill="#0a6a0a"/>
<rect x="630" y="397" width="3" height="5" fill="#0a6a0a"/>
<rect x="631" y="398" width="1" height="3" fill="#1fa01f"/>
<rect x="635" y="377" width="1" height="21" fill="#0a6a0a"/>
<rect x="634" y="382" width="3" height="16" fill="#0a6a0a"/>
<rect x="635" y="383" width="1" height="14" fill="#1fa01f"/>
<rect x="639" y="379" width="1" height="26" fill="#0a6a0a"/>
<rect x="638" y="381" width="3" height="1" fill="#0a6a0a"/>
<rect x="643" y="355" width="1" height="36" fill="#0a6a0a"/>
<rect x="642" y="356" width="3" height="26" fill="#0a6a0a"/>
<rect x="643" y="357" width="1" height="24" fill="#1fa01f"/>
<rect x="647" y="354" width="1" height="17" fill="#7a0808"/>
<rect x="646" y="357" width="3" height="9" fill="#7a0808"/>
<rect x="647" y="358" width="1" height="7" fill="#c42020"/>
<rect x="651" y="346" width="1" height="27" fill="#0a6a0a"/>
<rect x="650" y="346" width="3" height="21" fill="#0a6a0a"/>
<rect x="651" y="347" width="1" height="19" fill="#1fa01f"/>
<rect x="655" y="337" width="1" height="14" fill="#7a0808"/>
<rect x="654" y="346" width="3" height="4" fill="#7a0808"/>
<rect x="655" y="347" width="1" height="2" fill="#c42020"/>
<rect x="659" y="332" width="1" height="23" fill="#0a6a0a"/>
<rect x="658" y="333" width="3" height="19" fill="#0a6a0a"/>
<rect x="659" y="334" width="1" height="17" fill="#1fa01f"/>
<rect x="663" y="330" width="1" height="8" fill="#7a0808"/>
<rect x="662" y="332" width="3" height="3" fill="#7a0808"/>
<rect x="663" y="333" width="1" height="1" fill="#c42020"/>
<rect x="667" y="330" width="1" height="19" fill="#7a0808"/>
<rect x="666" y="334" width="3" height="6" fill="#7a0808"/>
<rect x="667" y="335" width="1" height="4" fill="#c42020"/>
<rect x="671" y="336" width="1" height="39" fill="#7a0808"/>
<rect x="670" y="339" width="3" height="33" fill="#7a0808"/>
<rect x="671" y="340" width="1" height="31" fill="#c42020"/>
<rect x="675" y="334" width="1" height="44" fill="#0a6a0a"/>
<rect x="674" y="369" width="3" height="3" fill="#0a6a0a"/>
<rect x="675" y="370" width="1" height="1" fill="#1fa01f"/>
<rect x="679" y="358" width="1" height="16" fill="#7a0808"/>
<rect x="678" y="367" width="3" height="2" fill="#7a0808"/>
<rect x="683" y="356" width="1" height="15" fill="#7a0808"/>
<rect x="682" y="368" width="3" height="2" fill="#7a0808"/>
<rect x="687" y="363" width="1" height="56" fill="#7a0808"/>
<rect x="686" y="368" width="3" height="50" fill="#7a0808"/>
<rect x="687" y="369" width="1" height="48" fill="#c42020"/>
<rect x="691" y="401" width="1" height="41" fill="#7a0808"/>
<rect x="690" y="419" width="3" height="16" fill="#7a0808"/>
<rect x="691" y="420" width="1" height="14" fill="#c42020"/>
<rect x="695" y="416" width="1" height="54" fill="#0a6a0a"/>
<rect x="694" y="416" width="3" height="18" fill="#0a6a0a"/>
<rect x="695" y="417" width="1" height="16" fill="#1fa01f"/>
<rect x="699" y="397" width="1" height="46" fill="#0a6a0a"/>
<rect x="698" y="397" width="3" height="21" fill="#0a6a0a"/>
<rect x="699" y="398" width="1" height="19" fill="#1fa01f"/>
<rect x="703" y="396" width="1" height="49" fill="#7a0808"/>
<rect x="702" y="397" width="3" height="45" fill="#7a0808"/>
<rect x="703" y="398" width="1" height="43" fill="#c42020"/>
<rect x="707" y="423" width="1" height="85" fill="#7a0808"/>
<rect x="706" y="441" width="3" height="43" fill="#7a0808"/>
<rect x="707" y="442" width="1" height="41" fill="#c42020"/>
<rect x="711" y="449" width="1" height="34" fill="#0a6a0a"/>
<rect x="710" y="468" width="3" height="15" fill="#0a6a0a"/>
<rect x="711" y="469" width="1" height="13" fill="#1fa01f"/>
<rect x="715" y="442" width="1" height="38" fill="#0a6a0a"/>
<rect x="714" y="450" width="3" height="20" fill="#0a6a0a"/>
<rect x="715" y="451" width="1" height="18" fill="#1fa01f"/>
<rect x="719" y="420" width="1" height="48" fill="#0a6a0a"/>
<rect x="718" y="424" width="3" height="28" fill="#0a6a0a"/>
<rect x="719" y="425" width="1" height="26" fill="#1fa01f"/>
<rect x="723" y="420" width="1" height="27" fill="#7a0808"/>
<rect x="722" y="424" width="3" height="2" fill="#7a0808"/>
<rect x="727" y="420" width="1" height="27" fill="#7a0808"/>
<rect x="726" y="423" width="3" height="16" fill="#7a0808"/>
<rect x="727" y="424" width="1" height="14" fill="#c42020"/>
<rect x="731" y="426" width="1" height="18" fill="#0a6a0a"/>
<rect x="730" y="434" width="3" height="6" fill="#0a6a0a"/>
<rect x="731" y="435" width="1" height="4" fill="#1fa01f"/>
<rect x="735" y="422" width="1" height="37" fill="#7a0808"/>
<rect x="734" y="430" width="3" height="26" fill="#7a0808"/>
<rect x="735" y="431" width="1" height="24" fill="#c42020"/>
<rect x="739" y="453" width="1" height="35" fill="#7a0808"/>
<rect x="738" y="455" width="3" height="16" fill="#7a0808"/>
<rect x="739" y="456" width="1" height="14" fill="#c42020"/>
<rect x="743" y="428" width="1" height="53" fill="#0a6a0a"/>
<rect x="742" y="439" width="3" height="31" fill="#0a6a0a"/>
<rect x="743" y="440" width="1" height="29" fill="#1fa01f"/>
<rect x="747" y="400" width="1" height="54" fill="#0a6a0a"/>
<rect x="746" y="401" width="3" height="43" fill="#0a6a0a"/>
<rect x="747" y="402" width="1" height="41" fill="#1fa01f"/>
<rect x="751" y="399" width="1" height="70" fill="#7a0808"/>
<rect x="750" y="400" width="3" height="67" fill="#7a0808"/>
<rect x="751" y="401" width="1" height="65" fill="#c42020"/>
<rect x="755" y="452" width="1" height="17" fill="#0a6a0a"/>
<rect x="754" y="457" width="3" height="10" fill="#0a6a0a"/>
<rect x="755" y="458" width="1" height="8" fill="#1fa01f"/>
<rect x="759" y="432" width="1" height="27" fill="#0a6a0a"/>
<rect x="758" y="448" width="3" height="10" fill="#0a6a0a"/>
<rect x="759" y="449" width="1" height="8" fill="#1fa01f"/>
<rect x="763" y="431" width="1" height="21" fill="#0a6a0a"/>
<rect x="762" y="435" width="3" height="14" fill="#0a6a0a"/>
<rect x="763" y="436" width="1" height="12" fill="#1fa01f"/>
<rect x="767" y="426" width="1" height="22" fill="#0a6a0a"/>
<rect x="766" y="429" width="3" height="7" fill="#0a6a0a"/>
<rect x="767" y="430" width="1" height="5" fill="#1fa01f"/>
<rect x="771" y="417" width="1" height="36" fill="#7a0808"/>
<rect x="770" y="429" width="3" height="21" fill="#7a0808"/>
<rect x="771" y="430" width="1" height="19" fill="#c42020"/>
<rect x="775" y="431" width="1" height="25" fill="#7a0808"/>
<rect x="774" y="450" width="3" height="2" fill="#7a0808"/>
<rect x="779" y="452" width="1" height="40" fill="#7a0808"/>
<rect x="778" y="452" width="3" height="26" fill="#7a0808"/>
<rect x="779" y="453" width="1" height="24" fill="#c42020"/>
<rect x="783" y="439" width="1" height="67" fill="#7a0808"/>
<rect x="782" y="474" width="3" height="22" fill="#7a0808"/>
<rect x="783" y="475" width="1" height="20" fill="#c42020"/>
<rect x="787" y="469" width="1" height="33" fill="#0a6a0a"/>
<rect x="786" y="477" width="3" height="19" fill="#0a6a0a"/>
<rect x="787" y="478" width="1" height="17" fill="#1fa01f"/>
<rect x="791" y="469" width="1" height="28" fill="#7a0808"/>
<rect x="790" y="476" width="3" height="9" fill="#7a0808"/>
<rect x="791" y="477" width="1" height="7" fill="#c42020"/>
<rect x="795" y="439" width="1" height="48" fill="#0a6a0a"/>
<rect x="794" y="447" width="3" height="36" fill="#0a6a0a"/>
<rect x="795" y="448" width="1" height="34" fill="#1fa01f"/>
<rect x="799" y="429" width="1" height="17" fill="#0a6a0a"/>
<rect x="798" y="439" width="3" height="2" fill="#0a6a0a"/>
<rect x="803" y="432" width="1" height="30" fill="#7a0808"/>
<rect x="802" y="439" width="3" height="12" fill="#7a0808"/>
<rect x="803" y="440" width="1" height="10" fill="#c42020"/>
<rect x="807" y="438" width="1" height="29" fill="#7a0808"/>
<rect x="806" y="439" width="3" height="8" fill="#7a0808"/>
<rect x="807" y="440" width="1" height="6" fill="#c42020"/>
<rect x="811" y="428" width="1" height="17" fill="#0a6a0a"/>
<rect x="810" y="432" width="3" height="13" fill="#0a6a0a"/>
<rect x="811" y="433" width="1" height="11" fill="#1fa01f"/>
<rect x="815" y="428" width="1" height="20" fill="#7a0808"/>
<rect x="814" y="432" width="3" height="13" fill="#7a0808"/>
<rect x="815" y="433" width="1" height="11" fill="#c42020"/>
<rect x="819" y="438" width="1" height="13" fill="#0a6a0a"/>
<rect x="818" y="441" width="3" height="2" fill="#0a6a0a"/>
<rect x="823" y="421" width="1" height="21" fill="#0a6a0a"/>
<rect x="822" y="422" width="3" height="19" fill="#0a6a0a"/>
<rect x="823" y="423" width="1" height="17" fill="#1fa01f"/>
<rect x="827" y="421" width="1" height="18" fill="#7a0808"/>
<rect x="826" y="421" width="3" height="18" fill="#7a0808"/>
<rect x="827" y="422" width="1" height="16" fill="#c42020"/>
<rect x="831" y="436" width="1" height="19" fill="#7a0808"/>
<rect x="830" y="438" width="3" height="15" fill="#7a0808"/>
<rect x="831" y="439" width="1" height="13" fill="#c42020"/>
<rect x="835" y="432" width="1" height="23" fill="#0a6a0a"/>
<rect x="834" y="441" width="3" height="13" fill="#0a6a0a"/>
<rect x="835" y="442" width="1" height="11" fill="#1fa01f"/>
<rect x="839" y="435" width="1" height="22" fill="#7a0808"/>
<rect x="838" y="440" width="3" height="3" fill="#7a0808"/>
<rect x="839" y="441" width="1" height="1" fill="#c42020"/>
<rect x="843" y="427" width="1" height="17" fill="#0a6a0a"/>
<rect x="842" y="434" width="3" height="9" fill="#0a6a0a"/>
<rect x="843" y="435" width="1" height="7" fill="#1fa01f"/>
<rect x="847" y="424" width="1" height="15" fill="#0a6a0a"/>
<rect x="846" y="430" width="3" height="3" fill="#0a6a0a"/>
<rect x="847" y="431" width="1" height="1" fill="#1fa01f"/>
<rect x="851" y="416" width="1" height="18" fill="#0a6a0a"/>
<rect x="850" y="418" width="3" height="13" fill="#0a6a0a"/>
<rect x="851" y="419" width="1" height="11" fill="#1fa01f"/>
<rect x="855" y="408" width="1" height="13" fill="#0a6a0a"/>
<rect x="854" y="413" width="3" height="6" fill="#0a6a0a"/>
<rect x="855" y="414" width="1" height="4" fill="#1fa01f"/>
<rect x="859" y="408" width="1" height="26" fill="#7a0808"/>
<rect x="858" y="413" width="3" height="18" fill="#7a0808"/>
<rect x="859" y="414" width="1" height="16" fill="#c42020"/>
<rect x="863" y="405" width="1" height="54" fill="#0a6a0a"/>
<rect x="862" y="412" width="3" height="14" fill="#0a6a0a"/>
<rect x="863" y="413" width="1" height="12" fill="#1fa01f"/>
<rect x="867" y="389" width="1" height="24" fill="#0a6a0a"/>
<rect x="866" y="393" width="3" height="20" fill="#0a6a0a"/>
<rect x="867" y="394" width="1" height="18" fill="#1fa01f"/>
<rect x="871" y="377" width="1" height="17" fill="#0a6a0a"/>
<rect x="870" y="380" width="3" height="11" fill="#0a6a0a"/>
<rect x="871" y="381" width="1" height="9" fill="#1fa01f"/>
<rect x="875" y="369" width="1" height="18" fill="#7a0808"/>
<rect x="874" y="381" width="3" height="2" fill="#7a0808"/>
<rect x="879" y="355" width="1" height="32" fill="#0a6a0a"/>
<rect x="878" y="355" width="3" height="30" fill="#0a6a0a"/>
<rect x="879" y="356" width="1" height="28" fill="#1fa01f"/>
<rect x="883" y="345" width="1" height="17" fill="#0a6a0a"/>
<rect x="882" y="352" width="3" height="4" fill="#0a6a0a"/>
<rect x="883" y="353" width="1" height="2" fill="#1fa01f"/>
<rect x="887" y="342" width="1" height="12" fill="#0a6a0a"/>
<rect x="886" y="349" width="3" height="4" fill="#0a6a0a"/>
<rect x="887" y="350" width="1" height="2" fill="#1fa01f"/>
<rect x="891" y="347" width="1" height="17" fill="#7a0808"/>
<rect x="890" y="350" width="3" height="10" fill="#7a0808"/>
<rect x="891" y="351" width="1" height="8" fill="#c42020"/>
<rect x="895" y="341" width="1" height="17" fill="#0a6a0a"/>
<rect x="894" y="343" width="3" height="14" fill="#0a6a0a"/>
<rect x="895" y="344" width="1" height="12" fill="#1fa01f"/>
<rect x="899" y="340" width="1" height="24" fill="#7a0808"/>
<rect x="898" y="343" width="3" height="10" fill="#7a0808"/>
<rect x="899" y="344" width="1" height="8" fill="#c42020"/>
<rect x="903" y="352" width="1" height="22" fill="#7a0808"/>
<rect x="902" y="352" width="3" height="6" fill="#7a0808"/>
<rect x="903" y="353" width="1" height="4" fill="#c42020"/>
<rect x="907" y="344" width="1" height="25" fill="#0a6a0a"/>
<rect x="906" y="346" width="3" height="12" fill="#0a6a0a"/>
<rect x="907" y="347" width="1" height="10" fill="#1fa01f"/>
<rect x="911" y="347" width="1" height="21" fill="#7a0808"/>
<rect x="910" y="348" width="3" height="12" fill="#7a0808"/>
<rect x="911" y="349" width="1" height="10" fill="#c42020"/>
<rect x="915" y="347" width="1" height="21" fill="#0a6a0a"/>
<rect x="914" y="351" width="3" height="9" fill="#0a6a0a"/>
<rect x="915" y="352" width="1" height="7" fill="#1fa01f"/>
<rect x="919" y="345" width="1" height="16" fill="#7a0808"/>
<rect x="918" y="350" width="3" height="7" fill="#7a0808"/>
<rect x="919" y="351" width="1" height="5" fill="#c42020"/>
<rect x="923" y="347" width="1" height="13" fill="#000"/>
<rect x="922" y="357" width="3" height="2" fill="#000"/>
<rect x="927" y="340" width="1" height="22" fill="#0a6a0a"/>
<rect x="926" y="347" width="3" height="10" fill="#0a6a0a"/>
<rect x="927" y="348" width="1" height="8" fill="#1fa01f"/>
<rect x="931" y="345" width="1" height="15" fill="#7a0808"/>
<rect x="930" y="345" width="3" height="3" fill="#7a0808"/>
<rect x="931" y="346" width="1" height="1" fill="#c42020"/>
<rect x="935" y="343" width="1" height="11" fill="#7a0808"/>
<rect x="934" y="347" width="3" height="5" fill="#7a0808"/>
<rect x="935" y="348" width="1" height="3" fill="#c42020"/>
<rect x="939" y="349" width="1" height="20" fill="#7a0808"/>
<rect x="938" y="352" width="3" height="6" fill="#7a0808"/>
<rect x="939" y="353" width="1" height="4" fill="#c42020"/>
<rect x="943" y="353" width="1" height="17" fill="#7a0808"/>
<rect x="942" y="359" width="3" height="5" fill="#7a0808"/>
<rect x="943" y="360" width="1" height="3" fill="#c42020"/>
<rect x="947" y="359" width="1" height="18" fill="#7a0808"/>
<rect x="946" y="362" width="3" height="6" fill="#7a0808"/>
<rect x="947" y="363" width="1" height="4" fill="#c42020"/>
<rect x="951" y="366" width="1" height="18" fill="#7a0808"/>
<rect x="950" y="368" width="3" height="15" fill="#7a0808"/>
<rect x="951" y="369" width="1" height="13" fill="#c42020"/>
<rect x="955" y="371" width="1" height="16" fill="#0a6a0a"/>
<rect x="954" y="373" width="3" height="10" fill="#0a6a0a"/>
<rect x="955" y="374" width="1" height="8" fill="#1fa01f"/>
<rect x="959" y="351" width="1" height="16" fill="#0a6a0a"/>
<rect x="958" y="354" width="3" height="10" fill="#0a6a0a"/>
<rect x="959" y="355" width="1" height="8" fill="#1fa01f"/>
<rect x="963" y="338" width="1" height="19" fill="#0a6a0a"/>
<rect x="962" y="338" width="3" height="17" fill="#0a6a0a"/>
<rect x="963" y="339" width="1" height="15" fill="#1fa01f"/>
<rect x="967" y="330" width="1" height="10" fill="#0a6a0a"/>
<rect x="966" y="337" width="3" height="2" fill="#0a6a0a"/>
<rect x="971" y="331" width="1" height="22" fill="#7a0808"/>
<rect x="970" y="337" width="3" height="4" fill="#7a0808"/>
<rect x="971" y="338" width="1" height="2" fill="#c42020"/>
<rect x="975" y="335" width="1" height="9" fill="#0a6a0a"/>
<rect x="974" y="339" width="3" height="2" fill="#0a6a0a"/>
<rect x="979" y="324" width="1" height="21" fill="#0a6a0a"/>
<rect x="978" y="325" width="3" height="15" fill="#0a6a0a"/>
<rect x="979" y="326" width="1" height="13" fill="#1fa01f"/>
<rect x="983" y="324" width="1" height="13" fill="#7a0808"/>
<rect x="982" y="326" width="3" height="7" fill="#7a0808"/>
<rect x="983" y="327" width="1" height="5" fill="#c42020"/>
<rect x="987" y="331" width="1" height="10" fill="#0a6a0a"/>
<rect x="986" y="333" width="3" height="2" fill="#0a6a0a"/>
<rect x="991" y="323" width="1" height="11" fill="#0a6a0a"/>
<rect x="990" y="328" width="3" height="6" fill="#0a6a0a"/>
<rect x="991" y="329" width="1" height="4" fill="#1fa01f"/>
<rect x="995" y="323" width="1" height="13" fill="#0a6a0a"/>
<rect x="994" y="328" width="3" height="1" fill="#0a6a0a"/>
<rect x="999" y="325" width="1" height="12" fill="#7a0808"/>
<rect x="998" y="329" width="3" height="2" fill="#7a0808"/>
<rect x="1003" y="325" width="1" height="6" fill="#7a0808"/>
<rect x="1002" y="329" width="3" height="2" fill="#7a0808"/>
<rect x="1007" y="326" width="1" height="9" fill="#7a0808"/>
<rect x="1006" y="330" width="3" height="3" fill="#7a0808"/>
<rect x="1007" y="331" width="1" height="1" fill="#c42020"/>
<rect x="1011" y="326" width="1" height="10" fill="#7a0808"/>
<rect x="1010" y="332" width="3" height="2" fill="#7a0808"/>
<rect x="1015" y="328" width="1" height="7" fill="#0a6a0a"/>
<rect x="1014" y="329" width="3" height="4" fill="#0a6a0a"/>
<rect x="1015" y="330" width="1" height="2" fill="#1fa01f"/>
<rect x="1019" y="328" width="1" height="25" fill="#7a0808"/>
<rect x="1018" y="329" width="3" height="21" fill="#7a0808"/>
<rect x="1019" y="330" width="1" height="19" fill="#c42020"/>
<rect x="1023" y="336" width="1" height="16" fill="#0a6a0a"/>
<rect x="1022" y="347" width="3" height="2" fill="#0a6a0a"/>
<rect x="1027" y="344" width="1" height="9" fill="#7a0808"/>
<rect x="1026" y="347" width="3" height="2" fill="#7a0808"/>
<rect x="1031" y="338" width="1" height="22" fill="#0a6a0a"/>
<rect x="1030" y="339" width="3" height="10" fill="#0a6a0a"/>
<rect x="1031" y="340" width="1" height="8" fill="#1fa01f"/>
<rect x="1035" y="342" width="1" height="17" fill="#7a0808"/>
<rect x="1034" y="347" width="3" height="10" fill="#7a0808"/>
<rect x="1035" y="348" width="1" height="8" fill="#c42020"/>
<rect x="1039" y="334" width="1" height="22" fill="#0a6a0a"/>
<rect x="1038" y="335" width="3" height="21" fill="#0a6a0a"/>
<rect x="1039" y="336" width="1" height="19" fill="#1fa01f"/>
<rect x="1043" y="320" width="1" height="16" fill="#0a6a0a"/>
<rect x="1042" y="325" width="3" height="11" fill="#0a6a0a"/>
<rect x="1043" y="326" width="1" height="9" fill="#1fa01f"/>
<rect x="1047" y="318" width="1" height="11" fill="#0a6a0a"/>
<rect x="1046" y="320" width="3" height="6" fill="#0a6a0a"/>
<rect x="1047" y="321" width="1" height="4" fill="#1fa01f"/>
<rect x="1051" y="309" width="1" height="12" fill="#0a6a0a"/>
<rect x="1050" y="311" width="3" height="9" fill="#0a6a0a"/>
<rect x="1051" y="312" width="1" height="7" fill="#1fa01f"/>
<rect x="1055" y="295" width="1" height="19" fill="#0a6a0a"/>
<rect x="1054" y="296" width="3" height="18" fill="#0a6a0a"/>
<rect x="1055" y="297" width="1" height="16" fill="#1fa01f"/>
<rect x="1059" y="287" width="1" height="11" fill="#0a6a0a"/>
<rect x="1058" y="287" width="3" height="10" fill="#0a6a0a"/>
<rect x="1059" y="288" width="1" height="8" fill="#1fa01f"/>
<rect x="1063" y="272" width="1" height="15" fill="#0a6a0a"/>
<rect x="1062" y="274" width="3" height="12" fill="#0a6a0a"/>
<rect x="1063" y="275" width="1" height="10" fill="#1fa01f"/>
<rect x="1067" y="258" width="1" height="22" fill="#0a6a0a"/>
<rect x="1066" y="259" width="3" height="15" fill="#0a6a0a"/>
<rect x="1067" y="260" width="1" height="13" fill="#1fa01f"/>
<rect x="1071" y="238" width="1" height="29" fill="#7a0808"/>
<rect x="1070" y="259" width="3" height="5" fill="#7a0808"/>
<rect x="1071" y="260" width="1" height="3" fill="#c42020"/>
<rect x="1075" y="255" width="1" height="25" fill="#7a0808"/>
<rect x="1074" y="262" width="3" height="6" fill="#7a0808"/>
<rect x="1075" y="263" width="1" height="4" fill="#c42020"/>
<rect x="1079" y="257" width="1" height="14" fill="#0a6a0a"/>
<rect x="1078" y="258" width="3" height="10" fill="#0a6a0a"/>
<rect x="1079" y="259" width="1" height="8" fill="#1fa01f"/>
<rect x="1083" y="249" width="1" height="17" fill="#7a0808"/>
<rect x="1082" y="257" width="3" height="2" fill="#7a0808"/>
<rect x="1087" y="250" width="1" height="26" fill="#0a6a0a"/>
<rect x="1086" y="252" width="3" height="2" fill="#0a6a0a"/>
<rect x="1091" y="247" width="1" height="17" fill="#7a0808"/>
<rect x="1090" y="252" width="3" height="6" fill="#7a0808"/>
<rect x="1091" y="253" width="1" height="4" fill="#c42020"/>
<rect x="1095" y="249" width="1" height="9" fill="#0a6a0a"/>
<rect x="1094" y="253" width="3" height="5" fill="#0a6a0a"/>
<rect x="1095" y="254" width="1" height="3" fill="#1fa01f"/>
</g>
<line x1="178.0" y1="446.5" x2="483.0" y2="449.5" stroke="#55e848" stroke-width="1.1" stroke-dasharray="4.5 2.8" />
<line x1="147.0" y1="615.7" x2="483.0" y2="508.2" stroke="#55e848" stroke-width="1.0" stroke-dasharray="4.5 2.8" />
<line x1="15.5" y1="831.4" x2="686.7" y2="436.5" stroke="#f05050" stroke-width="1" stroke-dasharray="3 2" />
<line x1="15.5" y1="832.5" x2="1178.2" y2="339.7" stroke="#6aaa8c" stroke-width="0.9" stroke-dasharray="4 2.5" />
<line x1="783.0" y1="507.7" x2="1178.0" y2="261.5" stroke="#ff22ee" stroke-width="1.5" stroke-dasharray="4 2.6" />
<line x1="606.4" y1="271.1" x2="776.4" y2="420.8" stroke="#7ab89a" stroke-width="1" />
<line x1="611.0" y1="421.0" x2="768.7" y2="560.7" stroke="#7ab89a" stroke-width="1" />
<line x1="686.7" y1="435.1" x2="781.2" y2="383.6" stroke="#f84a4a" stroke-width="1.0" />
<line x1="707.0" y1="507.7" x2="781.2" y2="458.8" stroke="#f84a4a" stroke-width="1.0" />
<line x1="798.2" y1="427.9" x2="879.0" y2="399.7" stroke="#4f9f72" stroke-width="0.9" />
<line x1="815.0" y1="446.7" x2="878.6" y2="464.0" stroke="#4f9f72" stroke-width="0.9" />
<line x1="648.8" y1="229.5" x2="731.0" y2="397.0" stroke="#f01010" stroke-width="1.2" />
<polygon points="735.6,406.6 725.6,397.6 734.6,393.2" fill="#f01010"/>
<line x1="641.6" y1="573.6" x2="700.0" y2="509.0" stroke="#3c9a78" stroke-width="1.3" />
<polygon points="706.2,502.5 701.5,515.8 693.4,508.4" fill="#3c9a78"/>
<line x1="305.9" y1="652.9" x2="269.7" y2="580.3" stroke="#111" stroke-width="1.25" stroke-dasharray="5 3" />
<polygon points="269.7,580.3 279.2,589.0 270.9,593.1" fill="#000"/>
<line x1="433.6" y1="676.6" x2="397.1" y2="602.9" stroke="#111" stroke-width="1.25" stroke-dasharray="5 3" />
<polygon points="397.1,602.9 406.5,611.6 398.3,615.7" fill="#000"/>
<line x1="553.2" y1="698.5" x2="517.1" y2="624.2" stroke="#111" stroke-width="1.25" stroke-dasharray="5 3" />
<polygon points="517.1,624.2 526.5,633.0 518.2,637.0" fill="#000"/>
<line x1="106.7" y1="834.3" x2="30.6" y2="801.3" stroke="#111" stroke-width="1.25" stroke-dasharray="5 3" />
<polygon points="30.6,801.3 43.4,801.9 39.8,810.3" fill="#000"/>
<line x1="944.4" y1="480.0" x2="918.0" y2="428.5" stroke="#ff22ee" stroke-width="1.4" stroke-dasharray="4 3" />
<polygon points="917.3,427.4 927.7,436.7 918.8,441.2" fill="#ff22ee"/>
<polyline points="1048.5,334.7 1092.2,167.8 1119,207.2 1139.8,100 1151,164.6 1167.6,56" fill="none" stroke="#3a6cff" stroke-width="1.3" stroke-dasharray="3.5 2.5"/>
<g shape-rendering="crispEdges" fill="#000"><rect x="999" y="270" width="51" height="1"/><rect x="1028" y="181" width="50" height="1"/><rect x="1031" y="359" width="35" height="1"/><rect x="1031" y="352" width="1" height="8"/></g>
<circle cx="139.0" cy="450.0" r="6.4" fill="none" stroke="#3c9a7a" stroke-width="1.0"/>
<text x="139.0" y="453.1" font-size="12" text-anchor="middle" fill="#3c9a7a" stroke="#3c9a7a" stroke-width="0.3">v</text>
<circle cx="266.8" cy="397.0" r="6.4" fill="none" stroke="#3c9a7a" stroke-width="1.0"/>
<text x="266.8" y="400.1" font-size="12" text-anchor="middle" fill="#3c9a7a" stroke="#3c9a7a" stroke-width="0.3">x</text>
<circle cx="103.2" cy="589.3" r="6.4" fill="none" stroke="#3c9a7a" stroke-width="1.0"/>
<text x="103.2" y="593.6" font-size="12" text-anchor="middle" fill="#3c9a7a" stroke="#3c9a7a" stroke-width="0.3">ii</text>
<circle cx="147.2" cy="627.5" r="6.4" fill="none" stroke="#3c9a7a" stroke-width="1.0"/>
<text x="147.2" y="630.6" font-size="12" text-anchor="middle" fill="#3c9a7a" stroke="#3c9a7a" stroke-width="0.3">w</text>
<circle cx="111.1" cy="650.8" r="6.4" fill="none" stroke="#3c9a7a" stroke-width="1.0"/>
<text x="111.1" y="655.1" font-size="12" text-anchor="middle" fill="#3c9a7a" stroke="#3c9a7a" stroke-width="0.3">iv</text>
<circle cx="34.9" cy="757.8" r="6.4" fill="none" stroke="#3c9a7a" stroke-width="1.0"/>
<text x="34.9" y="762.1" font-size="12" text-anchor="middle" fill="#3c9a7a" stroke="#3c9a7a" stroke-width="0.3">i</text>
<circle cx="40.0" cy="795.7" r="6.4" fill="none" stroke="#3c9a7a" stroke-width="1.0"/>
<text x="40.0" y="800.0" font-size="12" text-anchor="middle" fill="#3c9a7a" stroke="#3c9a7a" stroke-width="0.3">ii</text>
<circle cx="327.2" cy="571.5" r="6.4" fill="none" stroke="#3c9a7a" stroke-width="1.0"/>
<text x="327.2" y="574.6" font-size="12" text-anchor="middle" fill="#3c9a7a" stroke="#3c9a7a" stroke-width="0.3">v</text>
<circle cx="418.9" cy="420.8" r="6.4" fill="none" stroke="#3c9a7a" stroke-width="1.0"/>
<text x="418.9" y="425.1" font-size="12" text-anchor="middle" fill="#3c9a7a" stroke="#3c9a7a" stroke-width="0.3">i</text>
<circle cx="431.0" cy="536.3" r="6.4" fill="none" stroke="#3c9a7a" stroke-width="1.0"/>
<text x="431.0" y="540.6" font-size="12" text-anchor="middle" fill="#3c9a7a" stroke="#3c9a7a" stroke-width="0.3">ii</text>
<circle cx="538.8" cy="283.0" r="6.4" fill="none" stroke="#3c9a7a" stroke-width="1.0"/>
<text x="538.8" y="287.3" font-size="12" text-anchor="middle" fill="#3c9a7a" stroke="#3c9a7a" stroke-width="0.3">iii</text>
<circle cx="574.9" cy="292.2" r="6.4" fill="none" stroke="#3c9a7a" stroke-width="1.0"/>
<text x="574.9" y="295.3" font-size="12" text-anchor="middle" fill="#3c9a7a" stroke="#3c9a7a" stroke-width="0.3">v</text>
<circle cx="547.1" cy="371.1" r="6.4" fill="none" stroke="#3c9a7a" stroke-width="1.0"/>
<text x="547.1" y="375.4" font-size="12" text-anchor="middle" fill="#3c9a7a" stroke="#3c9a7a" stroke-width="0.3">iv</text>
<circle cx="858.3" cy="396.3" r="6.4" fill="none" stroke="#3c9a7a" stroke-width="1.0"/>
<text x="858.3" y="400.6" font-size="12" text-anchor="middle" fill="#3c9a7a" stroke="#3c9a7a" stroke-width="0.3">b</text>
<circle cx="838.4" cy="467.5" r="6.4" fill="none" stroke="#3c9a7a" stroke-width="1.0"/>
<text x="838.4" y="470.6" font-size="12" text-anchor="middle" fill="#3c9a7a" stroke="#3c9a7a" stroke-width="0.3">a</text>
<circle cx="863.0" cy="469.2" r="6.4" fill="none" stroke="#3c9a7a" stroke-width="1.0"/>
<text x="863.0" y="472.3" font-size="12" text-anchor="middle" fill="#3c9a7a" stroke="#3c9a7a" stroke-width="0.3">c</text>
<circle cx="887.0" cy="330.4" r="6.4" fill="none" stroke="#3c9a7a" stroke-width="1.0"/>
<text x="887.0" y="334.7" font-size="12" text-anchor="middle" fill="#3c9a7a" stroke="#3c9a7a" stroke-width="0.3">i</text>
<circle cx="1033.7" cy="421.9" r="6.4" fill="none" stroke="#3c9a7a" stroke-width="1.0"/>
<text x="1033.7" y="426.2" font-size="12" text-anchor="middle" fill="#3c9a7a" stroke="#3c9a7a" stroke-width="0.3">ii</text>
<circle cx="1092.2" cy="157.3" r="6.4" fill="none" stroke="#3c9a7a" stroke-width="1.0"/>
<text x="1092.2" y="161.6" font-size="12" text-anchor="middle" fill="#3c9a7a" stroke="#3c9a7a" stroke-width="0.3">iii</text>
<circle cx="1118.1" cy="218.4" r="6.4" fill="none" stroke="#3c9a7a" stroke-width="1.0"/>
<text x="1118.1" y="222.7" font-size="12" text-anchor="middle" fill="#3c9a7a" stroke="#3c9a7a" stroke-width="0.3">iv</text>
<circle cx="1138.5" cy="90.5" r="6.4" fill="none" stroke="#3c9a7a" stroke-width="1.0"/>
<text x="1138.5" y="93.6" font-size="12" text-anchor="middle" fill="#3c9a7a" stroke="#3c9a7a" stroke-width="0.3">v</text>
<circle cx="1165.4" cy="15.0" r="8" fill="none" stroke="#909090" stroke-width="1.1"/>
<text x="1165.4" y="19.7" font-size="13" text-anchor="middle" fill="#909090" stroke="#909090" stroke-width="0.2">3</text>
<circle cx="227.1" cy="494.7" r="5.9" fill="none" stroke="#f02020" stroke-width="1.2"/>
<text x="227.1" y="498.3" font-size="10" text-anchor="middle" fill="#f02020" stroke="#f02020" stroke-width="0.25">1</text>
<circle cx="234.6" cy="552.6" r="5.9" fill="none" stroke="#f02020" stroke-width="1.2"/>
<text x="234.6" y="556.2" font-size="10" text-anchor="middle" fill="#f02020" stroke="#f02020" stroke-width="0.25">2</text>
<circle cx="250.9" cy="456.0" r="5.9" fill="none" stroke="#f02020" stroke-width="1.2"/>
<text x="250.9" y="459.6" font-size="10" text-anchor="middle" fill="#f02020" stroke="#f02020" stroke-width="0.25">3</text>
<circle cx="258.9" cy="502.4" r="5.9" fill="none" stroke="#f02020" stroke-width="1.2"/>
<text x="258.9" y="506.0" font-size="10" text-anchor="middle" fill="#f02020" stroke="#f02020" stroke-width="0.25">4</text>
<circle cx="266.6" cy="437.7" r="5.9" fill="none" stroke="#f02020" stroke-width="1.2"/>
<text x="266.6" y="441.3" font-size="10" text-anchor="middle" fill="#f02020" stroke="#f02020" stroke-width="0.25">5</text>
<text x="169.7" y="492.4" font-size="11" text-anchor="middle" fill="#000" font-weight="bold">(w)</text>
<text x="266.7" y="414.7" font-size="11" text-anchor="middle" fill="#000" font-weight="bold">(y)</text>
<text x="194.4" y="588.5" font-size="11" text-anchor="middle" fill="#000" font-weight="bold">(x)</text>
<text x="286.7" y="556.4" font-size="11" text-anchor="middle" fill="#000" font-weight="bold">(a)</text>
<text x="317.8" y="468.9" font-size="11" text-anchor="middle" fill="#000" font-weight="bold">(b)</text>
<text x="326.4" y="560.7" font-size="11" text-anchor="middle" fill="#000" font-weight="bold">(c)</text>
<text x="330.1" y="505.6" font-size="11" text-anchor="middle" fill="#000" font-weight="bold">(i)</text>
<text x="346.5" y="557.8" font-size="11" text-anchor="middle" fill="#000" font-weight="bold">(ii)</text>
<text x="386.9" y="461.8" font-size="11" text-anchor="middle" fill="#000" font-weight="bold">(iii)</text>
<text x="390.9" y="526.3" font-size="11" text-anchor="middle" fill="#000" font-weight="bold">(iv)</text>
<text x="418.9" y="438.7" font-size="11" text-anchor="middle" fill="#000" font-weight="bold">(v)</text>
<text x="433.9" y="474.7" font-size="11" text-anchor="middle" fill="#000" font-weight="bold">(i)</text>
<text x="442.5" y="517.7" font-size="11" text-anchor="middle" fill="#000" font-weight="bold">(ii)</text>
<text x="458.7" y="383.4" font-size="11" text-anchor="middle" fill="#000" font-weight="bold">(iii)</text>
<text x="466.9" y="459.5" font-size="11" text-anchor="middle" fill="#000" font-weight="bold">(iv)</text>
<text x="538.8" y="300.3" font-size="11" text-anchor="middle" fill="#000" font-weight="bold">(v)</text>
<text x="990.5" y="315.2" font-size="11" text-anchor="middle" fill="#000" font-weight="bold">(x)</text>
<text x="953.8" y="399.8" font-size="11" text-anchor="middle" fill="#000" font-weight="bold">(w)</text>
<text x="1033.5" y="411.3" font-size="11" text-anchor="middle" fill="#000" font-weight="bold">(y)</text>
<text x="210.2" y="496.5" font-size="12.3" text-anchor="middle" fill="#a0a0a0">a</text>
<text x="266.2" y="429.6" font-size="12.3" text-anchor="middle" fill="#a0a0a0">c</text>
<text x="218.8" y="565.9" font-size="12.3" text-anchor="middle" fill="#a0a0a0">b</text>
<text x="290.5" y="494.5" font-size="12.3" text-anchor="middle" fill="#a0a0a0">a</text>
<text x="302.4" y="475.5" font-size="12.3" text-anchor="middle" fill="#a0a0a0">c</text>
<text x="294.8" y="547.4" font-size="12.3" text-anchor="middle" fill="#a0a0a0">b</text>
<text x="310.5" y="551.1" font-size="12.3" text-anchor="middle" fill="#a0a0a0">d</text>
<text x="317.8" y="484.1" font-size="12.3" text-anchor="middle" fill="#a0a0a0">e</text>
<text x="474.8" y="386.9" font-size="12.3" text-anchor="middle" fill="#a0a0a0">i</text>
<text x="479.0" y="458.6" font-size="12.3" text-anchor="middle" fill="#a0a0a0">ii</text>
<text x="538.8" y="315.5" font-size="12.3" text-anchor="middle" fill="#a0a0a0">v</text>
<text x="523.9" y="332.5" font-size="12.3" text-anchor="middle" fill="#a0a0a0">iii</text>
<text x="527.6" y="379.8" font-size="12.3" text-anchor="middle" fill="#a0a0a0">iv</text>
<text x="139.0" y="437.8" font-size="18" text-anchor="middle" fill="#ff00e6" font-weight="bold">3</text>
<text x="326.4" y="596.3" font-size="18" text-anchor="middle" fill="#ff00e6" font-weight="bold">4</text>
<text x="574.3" y="280.0" font-size="18" text-anchor="middle" fill="#ff00e6" font-weight="bold">5</text>
<text x="18.6" y="784.2" font-size="18" text-anchor="middle" fill="#ff00e6" font-weight="bold">1</text>
<text x="30.5" y="845.1" font-size="18" text-anchor="middle" fill="#ff00e6" font-weight="bold">2</text>
<text x="0.5" y="778.4" font-size="13" text-anchor="middle" fill="#ff00e6" font-weight="bold">X</text>
<text x="15.2" y="847.5" font-size="13" text-anchor="middle" fill="#ff00e6" font-weight="bold">Y</text>
<text x="631.0" y="446.2" font-size="14" text-anchor="middle" fill="#ff00e6" font-weight="bold">W</text>
<text x="663.2" y="322.5" font-size="13" text-anchor="middle" fill="#ff00e6" font-weight="bold">X</text>
<text x="751.2" y="392.5" font-size="13" text-anchor="middle" fill="#ff00e6" font-weight="bold">X</text>
<text x="707.0" y="523.3" font-size="13" text-anchor="middle" fill="#ff00e6" font-weight="bold">Y</text>
<text x="782.4" y="523.3" font-size="13" text-anchor="middle" fill="#ff00e6" font-weight="bold">Z</text>
<text x="810.8" y="420.9" font-size="14" text-anchor="middle" fill="#ff00e6" font-weight="bold">1</text>
<text x="862.4" y="489.2" font-size="14" text-anchor="middle" fill="#ff00e6" font-weight="bold">2</text>
<text x="1138.5" y="80.1" font-size="14" text-anchor="middle" fill="#ff00e6" font-weight="bold">3</text>
<text x="1149.4" y="190.4" font-size="14" text-anchor="middle" fill="#ff00e6" font-weight="bold">4</text>
<text x="1165.4" y="53.6" font-size="14" text-anchor="middle" fill="#ff00e6">5</text>
<text x="14.2" y="864.1" font-size="13" text-anchor="middle" fill="#0000e0" font-weight="bold">(2)</text>
<text x="574.6" y="259.5" font-size="14" text-anchor="middle" fill="#0000e0" font-weight="bold">(3)</text>
<text x="782.4" y="539.4" font-size="14" text-anchor="middle" fill="#0000e0" font-weight="bold">(4)</text>
<text x="1165.4" y="38.1" font-size="14" text-anchor="middle" fill="#0000e0" font-weight="bold">(5)</text>
<text class="sf" x="258.2" y="684.3" font-size="16" fill="#000" >steigendes Dreieck</text>
<text class="sf" x="380.8" y="702.2" font-size="16" fill="#000" >bärische Fächerlinie</text>
<text class="sf" x="504.8" y="722.2" font-size="16" fill="#000" >wichtige Trendlinie</text>
<text class="sf" x="104.6" y="855.7" font-size="16" fill="#000" >Rallyansage</text>
<text class="sf" x="532.0" y="220.5" font-size="18" fill="#f01010" >bärische Flaggenkonsolidierung</text>
<text class="sf" x="919.0" y="499.5" font-size="16" fill="#ff00e6" >0-2er Linie</text>
<text class="sf" x="543.6" y="607.6" font-size="25" fill="#b8d8c8" >Die Bodentrompete</text>
<text class="sf" x="542.4" y="606.6" font-size="25" fill="#2e9468" >Die Bodentrompete</text>
<rect x="949.8" y="263.0" width="49.6" height="15.8" rx="3.5" fill="#c8f0f8" stroke="#222" stroke-width="1.2"/>
<text x="952.6" y="275.2" font-size="10.6" font-weight="bold" textLength="45.3" lengthAdjust="spacingAndGlyphs" fill="#000">22153.00</text>
<rect x="977.7" y="173.6" width="50.2" height="16.0" rx="3.5" fill="#c8f0f8" stroke="#222" stroke-width="1.2"/>
<text x="980.8" y="185.9" font-size="10.6" font-weight="bold" textLength="45.3" lengthAdjust="spacingAndGlyphs" fill="#000">25783.00</text>
<rect x="1065.6" y="352.0" width="49.7" height="15.6" rx="3.5" fill="#f8ec10" stroke="#222" stroke-width="1.2"/>
<text x="1068.4" y="364.1" font-size="10.6" font-weight="bold" textLength="45.3" lengthAdjust="spacingAndGlyphs" fill="#000">19045.00</text>
<g shape-rendering="crispEdges">
<rect x="1178" y="0" width="1" height="886" fill="#8a9a8a"/>
<rect x="0" y="885" width="1179" height="1" fill="#8a9a8a"/>
<rect x="1184" y="0" width="1" height="891" fill="#000"/>
<rect x="0" y="890" width="1185" height="1" fill="#000"/>
<rect x="1181" y="877" width="3" height="1" fill="#000"/>
<rect x="1178" y="868" width="6" height="1" fill="#000"/>
<rect x="1181" y="859" width="3" height="1" fill="#000"/>
<rect x="1181" y="850" width="3" height="1" fill="#000"/>
<rect x="1181" y="841" width="3" height="1" fill="#000"/>
<rect x="1181" y="832" width="3" height="1" fill="#000"/>
<rect x="1181" y="824" width="3" height="1" fill="#000"/>
<rect x="1181" y="815" width="3" height="1" fill="#000"/>
<rect x="1181" y="807" width="3" height="1" fill="#000"/>
<rect x="1181" y="799" width="3" height="1" fill="#000"/>
<rect x="1181" y="791" width="3" height="1" fill="#000"/>
<rect x="1181" y="783" width="3" height="1" fill="#000"/>
<rect x="1181" y="775" width="3" height="1" fill="#000"/>
<rect x="1181" y="767" width="3" height="1" fill="#000"/>
<rect x="1181" y="760" width="3" height="1" fill="#000"/>
<rect x="1181" y="752" width="3" height="1" fill="#000"/>
<rect x="1181" y="745" width="3" height="1" fill="#000"/>
<rect x="1178" y="737" width="6" height="1" fill="#000"/>
<rect x="1181" y="730" width="3" height="1" fill="#000"/>
<rect x="1181" y="723" width="3" height="1" fill="#000"/>
<rect x="1181" y="716" width="3" height="1" fill="#000"/>
<rect x="1181" y="709" width="3" height="1" fill="#000"/>
<rect x="1181" y="702" width="3" height="1" fill="#000"/>
<rect x="1181" y="695" width="3" height="1" fill="#000"/>
<rect x="1181" y="688" width="3" height="1" fill="#000"/>
<rect x="1181" y="681" width="3" height="1" fill="#000"/>
<rect x="1181" y="675" width="3" height="1" fill="#000"/>
<rect x="1181" y="668" width="3" height="1" fill="#000"/>
<rect x="1181" y="662" width="3" height="1" fill="#000"/>
<rect x="1181" y="655" width="3" height="1" fill="#000"/>
<rect x="1181" y="649" width="3" height="1" fill="#000"/>
<rect x="1181" y="643" width="3" height="1" fill="#000"/>
<rect x="1181" y="636" width="3" height="1" fill="#000"/>
<rect x="1178" y="630" width="6" height="1" fill="#000"/>
<rect x="1181" y="624" width="3" height="1" fill="#000"/>
<rect x="1181" y="618" width="3" height="1" fill="#000"/>
<rect x="1181" y="612" width="3" height="1" fill="#000"/>
<rect x="1181" y="606" width="3" height="1" fill="#000"/>
<rect x="1181" y="601" width="3" height="1" fill="#000"/>
<rect x="1181" y="595" width="3" height="1" fill="#000"/>
<rect x="1181" y="589" width="3" height="1" fill="#000"/>
<rect x="1181" y="583" width="3" height="1" fill="#000"/>
<rect x="1181" y="578" width="3" height="1" fill="#000"/>
<rect x="1181" y="572" width="3" height="1" fill="#000"/>
<rect x="1181" y="567" width="3" height="1" fill="#000"/>
<rect x="1181" y="561" width="3" height="1" fill="#000"/>
<rect x="1181" y="556" width="3" height="1" fill="#000"/>
<rect x="1181" y="550" width="3" height="1" fill="#000"/>
<rect x="1181" y="545" width="3" height="1" fill="#000"/>
<rect x="1178" y="540" width="6" height="1" fill="#000"/>
<rect x="1181" y="535" width="3" height="1" fill="#000"/>
<rect x="1181" y="530" width="3" height="1" fill="#000"/>
<rect x="1181" y="524" width="3" height="1" fill="#000"/>
<rect x="1181" y="519" width="3" height="1" fill="#000"/>
<rect x="1181" y="514" width="3" height="1" fill="#000"/>
<rect x="1181" y="509" width="3" height="1" fill="#000"/>
<rect x="1181" y="504" width="3" height="1" fill="#000"/>
<rect x="1181" y="499" width="3" height="1" fill="#000"/>
<rect x="1181" y="495" width="3" height="1" fill="#000"/>
<rect x="1181" y="490" width="3" height="1" fill="#000"/>
<rect x="1181" y="485" width="3" height="1" fill="#000"/>
<rect x="1181" y="480" width="3" height="1" fill="#000"/>
<rect x="1181" y="476" width="3" height="1" fill="#000"/>
<rect x="1181" y="471" width="3" height="1" fill="#000"/>
<rect x="1181" y="466" width="3" height="1" fill="#000"/>
<rect x="1178" y="462" width="6" height="1" fill="#000"/>
<rect x="1181" y="457" width="3" height="1" fill="#000"/>
<rect x="1181" y="453" width="3" height="1" fill="#000"/>
<rect x="1181" y="448" width="3" height="1" fill="#000"/>
<rect x="1181" y="444" width="3" height="1" fill="#000"/>
<rect x="1181" y="439" width="3" height="1" fill="#000"/>
<rect x="1181" y="435" width="3" height="1" fill="#000"/>
<rect x="1181" y="430" width="3" height="1" fill="#000"/>
<rect x="1181" y="426" width="3" height="1" fill="#000"/>
<rect x="1181" y="418" width="3" height="1" fill="#000"/>
<rect x="1181" y="409" width="3" height="1" fill="#000"/>
<rect x="1181" y="401" width="3" height="1" fill="#000"/>
<rect x="1178" y="393" width="6" height="1" fill="#000"/>
<rect x="1178" y="331" width="6" height="1" fill="#000"/>
<rect x="1181" y="323" width="3" height="1" fill="#000"/>
<rect x="1181" y="316" width="3" height="1" fill="#000"/>
<rect x="1181" y="309" width="3" height="1" fill="#000"/>
<rect x="1181" y="302" width="3" height="1" fill="#000"/>
<rect x="1181" y="295" width="3" height="1" fill="#000"/>
<rect x="1181" y="288" width="3" height="1" fill="#000"/>
<rect x="1181" y="282" width="3" height="1" fill="#000"/>
<rect x="1178" y="275" width="6" height="1" fill="#000"/>
<rect x="1181" y="268" width="3" height="1" fill="#000"/>
<rect x="1181" y="262" width="3" height="1" fill="#000"/>
<rect x="1181" y="255" width="3" height="1" fill="#000"/>
<rect x="1181" y="249" width="3" height="1" fill="#000"/>
<rect x="1181" y="242" width="3" height="1" fill="#000"/>
<rect x="1181" y="236" width="3" height="1" fill="#000"/>
<rect x="1181" y="230" width="3" height="1" fill="#000"/>
<rect x="1178" y="224" width="6" height="1" fill="#000"/>
<rect x="1181" y="218" width="3" height="1" fill="#000"/>
<rect x="1181" y="212" width="3" height="1" fill="#000"/>
<rect x="1181" y="206" width="3" height="1" fill="#000"/>
<rect x="1181" y="200" width="3" height="1" fill="#000"/>
<rect x="1181" y="194" width="3" height="1" fill="#000"/>
<rect x="1181" y="188" width="3" height="1" fill="#000"/>
<rect x="1181" y="183" width="3" height="1" fill="#000"/>
<rect x="1178" y="177" width="6" height="1" fill="#000"/>
<rect x="1181" y="171" width="3" height="1" fill="#000"/>
<rect x="1181" y="166" width="3" height="1" fill="#000"/>
<rect x="1181" y="160" width="3" height="1" fill="#000"/>
<rect x="1181" y="155" width="3" height="1" fill="#000"/>
<rect x="1181" y="149" width="3" height="1" fill="#000"/>
<rect x="1181" y="144" width="3" height="1" fill="#000"/>
<rect x="1181" y="139" width="3" height="1" fill="#000"/>
<rect x="1178" y="134" width="6" height="1" fill="#000"/>
<rect x="1181" y="128" width="3" height="1" fill="#000"/>
<rect x="1181" y="123" width="3" height="1" fill="#000"/>
<rect x="1181" y="118" width="3" height="1" fill="#000"/>
<rect x="1181" y="113" width="3" height="1" fill="#000"/>
<rect x="1181" y="108" width="3" height="1" fill="#000"/>
<rect x="1181" y="103" width="3" height="1" fill="#000"/>
<rect x="1181" y="98" width="3" height="1" fill="#000"/>
<rect x="1178" y="93" width="6" height="1" fill="#000"/>
<rect x="1181" y="88" width="3" height="1" fill="#000"/>
<rect x="1181" y="83" width="3" height="1" fill="#000"/>
<rect x="1181" y="79" width="3" height="1" fill="#000"/>
<rect x="1181" y="74" width="3" height="1" fill="#000"/>
<rect x="1181" y="69" width="3" height="1" fill="#000"/>
<rect x="1181" y="64" width="3" height="1" fill="#000"/>
<rect x="1181" y="60" width="3" height="1" fill="#000"/>
<rect x="1178" y="55" width="6" height="1" fill="#000"/>
<rect x="1181" y="51" width="3" height="1" fill="#000"/>
<rect x="1181" y="46" width="3" height="1" fill="#000"/>
<rect x="1181" y="42" width="3" height="1" fill="#000"/>
<rect x="1181" y="37" width="3" height="1" fill="#000"/>
<rect x="1181" y="33" width="3" height="1" fill="#000"/>
<rect x="1181" y="28" width="3" height="1" fill="#000"/>
<rect x="1181" y="24" width="3" height="1" fill="#000"/>
<rect x="1178" y="20" width="6" height="1" fill="#000"/>
<rect x="1181" y="388" width="3" height="1" fill="#000"/>
<rect x="1181" y="384" width="3" height="1" fill="#000"/>
<rect x="1181" y="380" width="3" height="1" fill="#000"/>
<rect x="1181" y="373" width="3" height="1" fill="#000"/>
<rect x="1181" y="365" width="3" height="1" fill="#000"/>
<rect x="1181" y="357" width="3" height="1" fill="#000"/>
<rect x="1181" y="353" width="3" height="1" fill="#000"/>
<rect x="1181" y="346" width="3" height="1" fill="#000"/>
<rect x="1181" y="338" width="3" height="1" fill="#000"/>
<rect x="1181" y="18" width="3" height="1" fill="#000"/>
<rect x="1181" y="13" width="3" height="1" fill="#000"/>
<rect x="1181" y="9" width="3" height="1" fill="#000"/>
<rect x="1181" y="3" width="3" height="1" fill="#000"/>
<rect x="60" y="885" width="1" height="5" fill="#000"/>
<rect x="146" y="885" width="1" height="5" fill="#000"/>
<rect x="268" y="885" width="1" height="5" fill="#000"/>
<rect x="355" y="885" width="1" height="5" fill="#000"/>
<rect x="477" y="885" width="1" height="5" fill="#000"/>
<rect x="563" y="885" width="1" height="5" fill="#000"/>
<rect x="685" y="885" width="1" height="5" fill="#000"/>
<rect x="772" y="885" width="1" height="5" fill="#000"/>
<rect x="894" y="885" width="1" height="5" fill="#000"/>
<rect x="981" y="885" width="1" height="5" fill="#000"/>
<rect x="1103" y="885" width="1" height="5" fill="#000"/>
</g>
<text x="61.0" y="902.6" font-size="12.8" text-anchor="middle" fill="#000">Jan-2013</text>
<text x="147.0" y="902.6" font-size="12.8" text-anchor="middle" fill="#000">Jun-2013</text>
<text x="269.0" y="902.6" font-size="12.8" text-anchor="middle" fill="#000">Jan-2014</text>
<text x="356.0" y="902.6" font-size="12.8" text-anchor="middle" fill="#000">Jun-2014</text>
<text x="478.0" y="902.6" font-size="12.8" text-anchor="middle" fill="#000">Jan-2015</text>
<text x="564.0" y="902.6" font-size="12.8" text-anchor="middle" fill="#000">Jun-2015</text>
<text x="686.0" y="902.6" font-size="12.8" text-anchor="middle" fill="#000">Jan-2016</text>
<text x="773.0" y="902.6" font-size="12.8" text-anchor="middle" fill="#000">Jun-2016</text>
<text x="895.0" y="902.6" font-size="12.8" text-anchor="middle" fill="#000">Jan-2017</text>
<text x="982.0" y="902.6" font-size="12.8" text-anchor="middle" fill="#000">Jun-2017</text>
<text x="1104.0" y="902.6" font-size="12.8" text-anchor="middle" fill="#000">Jan-2018</text>
<text x="1187.3" y="873.0" font-size="13.5" textLength="45.6" lengthAdjust="spacingAndGlyphs" fill="#000">8000.00</text>
<text x="1187.3" y="742.0" font-size="13.5" textLength="52.6" lengthAdjust="spacingAndGlyphs" fill="#000">10000.00</text>
<text x="1187.3" y="635.0" font-size="13.5" textLength="52.6" lengthAdjust="spacingAndGlyphs" fill="#000">12000.00</text>
<text x="1187.3" y="545.0" font-size="13.5" textLength="52.6" lengthAdjust="spacingAndGlyphs" fill="#000">14000.00</text>
<text x="1187.3" y="467.0" font-size="13.5" textLength="52.6" lengthAdjust="spacingAndGlyphs" fill="#000">16000.00</text>
<text x="1187.3" y="398.0" font-size="13.5" textLength="52.6" lengthAdjust="spacingAndGlyphs" fill="#000">18000.00</text>
<text x="1187.3" y="336.0" font-size="13.5" textLength="52.6" lengthAdjust="spacingAndGlyphs" fill="#000">20000.00</text>
<text x="1187.3" y="280.0" font-size="13.5" textLength="52.6" lengthAdjust="spacingAndGlyphs" fill="#000">22000.00</text>
<text x="1187.3" y="229.0" font-size="13.5" textLength="52.6" lengthAdjust="spacingAndGlyphs" fill="#000">24000.00</text>
<text x="1187.3" y="182.0" font-size="13.5" textLength="52.6" lengthAdjust="spacingAndGlyphs" fill="#000">26000.00</text>
<text x="1187.3" y="139.0" font-size="13.5" textLength="52.6" lengthAdjust="spacingAndGlyphs" fill="#000">28000.00</text>
<text x="1187.3" y="98.0" font-size="13.5" textLength="52.6" lengthAdjust="spacingAndGlyphs" fill="#000">30000.00</text>
<text x="1187.3" y="60.0" font-size="13.5" textLength="52.6" lengthAdjust="spacingAndGlyphs" fill="#000">32000.00</text>
<text x="1187.3" y="25.0" font-size="13.5" textLength="52.6" lengthAdjust="spacingAndGlyphs" fill="#000">34000.00</text>
<path d="M1178.5 255.8 L1185.5 248 L1241 248 L1242.3 249.5 L1242.3 262 L1241 263.3 L1185.5 263.3 Z" fill="#f4c8c8" stroke="#666" stroke-width="1.4" stroke-linejoin="round"/>
<path d="M1178.5 252.8 L1185.5 245 L1241 245 L1242.3 246.5 L1242.3 259 L1241 260.3 L1185.5 260.3 Z" fill="#fff" stroke="#5a5a5a" stroke-width="1.6" stroke-linejoin="round"/>
<text x="1187.3" y="257.4" font-size="13.5" textLength="52.6" lengthAdjust="spacingAndGlyphs" fill="#000">22820.00</text>
<text class="sf" x="66" y="265" font-size="38" fill="#000">NIKKEI Future</text>
<text class="sf" x="66" y="309.8" font-size="38" fill="#000">Woche</text>
<defs>
<filter id="lsh" x="-10%" y="-20%" width="120%" height="150%"><feGaussianBlur stdDeviation="1.6"/></filter>
<filter id="fsh" x="-10%" y="-10%" width="120%" height="120%"><feGaussianBlur stdDeviation="0.9"/></filter>
<linearGradient id="flg" x1="0" y1="0" x2="0.25" y2="1"><stop offset="0" stop-color="#3c44c4"/><stop offset="0.28" stop-color="#2d2f98"/><stop offset="1" stop-color="#282a84"/></linearGradient>
<clipPath id="flagclip"><path id="flagp" d="M67.9,122.6 C75,110 90,95 105,87.7 C120,80.5 140,77 150,77 L158,78.1 L163.6,88.2 C172,88 188,82.5 201.7,75.7 L223.8,63.7 L249.5,115 L264,150 C255,160 240,171 222,172 C200,172 180,169 163,172 C145,176.5 122,186 106.8,198.7 Z"/></clipPath>
</defs>
<path d="M67.9,122.6 C75,110 90,95 105,87.7 C120,80.5 140,77 150,77 L158,78.1 L163.6,88.2 C172,88 188,82.5 201.7,75.7 L223.8,63.7 L249.5,115 L264,150 C255,160 240,171 222,172 C200,172 180,169 163,172 C145,176.5 122,186 106.8,198.7 Z" fill="#8c8c98" stroke="#8c8c98" stroke-width="2.2" filter="url(#fsh)" transform="translate(0.8,1)"/>
<path d="M67.9,122.6 C75,110 90,95 105,87.7 C120,80.5 140,77 150,77 L158,78.1 L163.6,88.2 C172,88 188,82.5 201.7,75.7 L223.8,63.7 L249.5,115 L264,150 C255,160 240,171 222,172 C200,172 180,169 163,172 C145,176.5 122,186 106.8,198.7 Z" fill="#2a328c"/>
<g clip-path="url(#flagclip)">
<path d="M67.9,122.6 C75,110 90,95 105,87.7 C120,80.5 140,77 150,77 L158,78.1 L163.6,88.2" fill="none" stroke="#3236a2" stroke-width="10" filter="url(#fsh)"/>
<path d="M163.6,88.2 C172,88 188,82.5 201.7,75.7 L223.8,63.7 L252,120 C235,100 215,92 196,96 C182,99 172,98 163.6,88.2 Z" fill="#30349c" filter="url(#fsh)"/>
<path d="M80,125 C95,104 125,92 150,92 L166,150 L120,185 Z" fill="#222a74" opacity="0.7" filter="url(#lsh)"/>
<path d="M185,110 C200,100 225,100 240,118 L255,150 L200,160 Z" fill="#222a74" opacity="0.75" filter="url(#lsh)"/>
<path d="M158,80 C162,92 170,110 187,152" fill="none" stroke="#3e48d0" stroke-width="7.5" opacity="0.8" filter="url(#fsh)"/>
</g>
<polygon points="170.38,94.91 171.24,97.23 173.71,97.32 171.76,98.85 172.44,101.24 170.38,99.86 168.33,101.24 169.01,98.85 167.06,97.32 169.53,97.23" fill="#f4b800"/>
<polygon points="182.31,101.79 183.16,104.12 185.64,104.21 183.69,105.74 184.37,108.12 182.31,106.74 180.25,108.12 180.93,105.74 178.98,104.21 181.46,104.12" fill="#f4b800"/>
<polygon points="189.19,113.72 190.05,116.04 192.52,116.13 190.57,117.66 191.25,120.05 189.19,118.67 187.14,120.05 187.81,117.66 185.86,116.13 188.34,116.04" fill="#f4b800"/>
<polygon points="189.19,127.48 190.05,129.81 192.52,129.90 190.57,131.43 191.25,133.82 189.19,132.43 187.14,133.82 187.81,131.43 185.86,129.90 188.34,129.81" fill="#f4b800"/>
<polygon points="182.31,139.41 183.16,141.74 185.64,141.83 183.69,143.36 184.37,145.74 182.31,144.36 180.25,145.74 180.93,143.36 178.98,141.83 181.46,141.74" fill="#f4b800"/>
<polygon points="170.38,146.29 171.24,148.62 173.71,148.71 171.76,150.24 172.44,152.63 170.38,151.24 168.33,152.63 169.01,150.24 167.06,148.71 169.53,148.62" fill="#f4b800"/>
<polygon points="156.62,146.29 157.47,148.62 159.94,148.71 157.99,150.24 158.67,152.63 156.62,151.24 154.56,152.63 155.24,150.24 153.29,148.71 155.76,148.62" fill="#f4b800"/>
<polygon points="144.69,139.41 145.54,141.74 148.02,141.83 146.07,143.36 146.75,145.74 144.69,144.36 142.63,145.74 143.31,143.36 141.36,141.83 143.84,141.74" fill="#f4b800"/>
<polygon points="137.81,127.48 138.66,129.81 141.14,129.90 139.19,131.43 139.86,133.82 137.81,132.43 135.75,133.82 136.43,131.43 134.48,129.90 136.95,129.81" fill="#f4b800"/>
<polygon points="137.81,113.72 138.66,116.04 141.14,116.13 139.19,117.66 139.86,120.05 137.81,118.67 135.75,120.05 136.43,117.66 134.48,116.13 136.95,116.04" fill="#f4b800"/>
<polygon points="144.69,101.79 145.54,104.12 148.02,104.21 146.07,105.74 146.75,108.12 144.69,106.74 142.63,108.12 143.31,105.74 141.36,104.21 143.84,104.12" fill="#f4b800"/>
<polygon points="156.62,94.91 157.47,97.23 159.94,97.32 157.99,98.85 158.67,101.24 156.62,99.86 154.56,101.24 155.24,98.85 153.29,97.32 155.76,97.23" fill="#f4b800"/>
<path d="M71.6,137.3 H87.9 A8.25,8.7 0 1 0 79.8,146 H87.4 M93.3,119.2 V143 Q93.3,146.4 96.6,146.4 M101.3,119.2 V143 Q101.3,146.4 104.6,146.4 M109.9,119.3 V122 M109.9,128.6 V146.4 M130.7,137.5 A8.4,8.7 0 1 0 113.9,137.5 A8.4,8.7 0 1 0 130.7,137.5 Z M133.3,118.9 V137.6 A9.7,8.8 0 0 0 152.7,137.6 M131.6,129.4 H139.5 M152.7,118.9 V138.4 A8.9,8 0 0 0 170.2,140.6 M151.4,129.4 H159.3 M193,129 V138.4 A8.7,8 0 0 0 210.4,138.4 V129 M210.4,129 V137.4 A9.05,9 0 0 0 228.5,137.4 V129 M232.9,137.3 H250.2 A8.7,8.7 0 1 0 241.5,146 H249.4 M253.3,119.2 V143 Q253.3,146.4 256.6,146.4 M261.2,119.2 V143 Q261.2,146.4 264.5,146.4 M269.7,137.3 H287 A8.7,8.7 0 1 0 278.3,146 H286.2 M293,146.4 V129 M293,136.1 A7.6,7.6 0 0 1 308.2,136.1 V146.4" fill="none" stroke-linecap="round" stroke-linejoin="round" stroke="#777" stroke-width="9" opacity="0.5" filter="url(#lsh)" transform="translate(1.2,2.2)"/>
<path d="M144.6,162.9 A11.3,11.3 0 1 0 122,162.9 A11.3,11.3 0 1 0 144.6,162.9 Z M150.5,174.2 V152 M150.5,162.6 A10.25,11 0 0 1 171,162.6 V174.2 M198.1,162.9 A11.3,11.3 0 1 0 175.5,162.9 A11.3,11.3 0 1 0 198.1,162.9 Z M202.1,139.9 V174.2 M209.8,151.6 V162.5 A11.7,11.7 0 0 0 233.2,162.5 M233.2,151.6 V185.6 A11.4,11 0 0 1 210.5,187.2 M255.6,157.8 C254.5,149.4 240.6,149.2 240.3,157.2 C240,163.8 255.9,162.2 255.8,168.8 C255.6,176.8 241.4,176.6 240.1,168.4 M264.8,163 H285.4 A10.3,11.3 0 1 0 275.1,174.2 H290 M293.8,174.2 V152 M293.8,162.8 A8.85,11.2 0 0 1 311.5,162.8 V174.2" fill="none" stroke-linecap="round" stroke-linejoin="round" stroke="#666" stroke-width="10.5" opacity="0.55" filter="url(#lsh)" transform="translate(1.5,2.8)"/>
<path d="M71.6,137.3 H87.9 A8.25,8.7 0 1 0 79.8,146 H87.4" fill="none" stroke-linecap="round" stroke-linejoin="round" stroke="#705c06" stroke-width="7.6"/>
<path d="M71.6,137.3 H87.9 A8.25,8.7 0 1 0 79.8,146 H87.4" fill="none" stroke-linecap="round" stroke-linejoin="round" stroke="#f1d43c" stroke-width="4.3"/>
<path d="M71.6,137.3 H87.9 A8.25,8.7 0 1 0 79.8,146 H87.4" fill="none" stroke-linecap="round" stroke-linejoin="round" stroke="#fae878" stroke-width="1.7" transform="translate(-0.5,-0.5)"/>
<path d="M93.3,119.2 V143 Q93.3,146.4 96.6,146.4" fill="none" stroke-linecap="round" stroke-linejoin="round" stroke="#705c06" stroke-width="7.6"/>
<path d="M93.3,119.2 V143 Q93.3,146.4 96.6,146.4" fill="none" stroke-linecap="round" stroke-linejoin="round" stroke="#f1d43c" stroke-width="4.3"/>
<path d="M93.3,119.2 V143 Q93.3,146.4 96.6,146.4" fill="none" stroke-linecap="round" stroke-linejoin="round" stroke="#fae878" stroke-width="1.7" transform="translate(-0.5,-0.5)"/>
<path d="M101.3,119.2 V143 Q101.3,146.4 104.6,146.4" fill="none" stroke-linecap="round" stroke-linejoin="round" stroke="#705c06" stroke-width="7.6"/>
<path d="M101.3,119.2 V143 Q101.3,146.4 104.6,146.4" fill="none" stroke-linecap="round" stroke-linejoin="round" stroke="#f1d43c" stroke-width="4.3"/>
<path d="M101.3,119.2 V143 Q101.3,146.4 104.6,146.4" fill="none" stroke-linecap="round" stroke-linejoin="round" stroke="#fae878" stroke-width="1.7" transform="translate(-0.5,-0.5)"/>
<path d="M109.9,119.3 V122 M109.9,128.6 V146.4" fill="none" stroke-linecap="round" stroke-linejoin="round" stroke="#705c06" stroke-width="7.6"/>
<path d="M109.9,119.3 V122 M109.9,128.6 V146.4" fill="none" stroke-linecap="round" stroke-linejoin="round" stroke="#f1d43c" stroke-width="4.3"/>
<path d="M109.9,119.3 V122 M109.9,128.6 V146.4" fill="none" stroke-linecap="round" stroke-linejoin="round" stroke="#fae878" stroke-width="1.7" transform="translate(-0.5,-0.5)"/>
<path d="M130.7,137.5 A8.4,8.7 0 1 0 113.9,137.5 A8.4,8.7 0 1 0 130.7,137.5 Z" fill="none" stroke-linecap="round" stroke-linejoin="round" stroke="#705c06" stroke-width="7.6"/>
<path d="M130.7,137.5 A8.4,8.7 0 1 0 113.9,137.5 A8.4,8.7 0 1 0 130.7,137.5 Z" fill="none" stroke-linecap="round" stroke-linejoin="round" stroke="#f1d43c" stroke-width="4.3"/>
<path d="M130.7,137.5 A8.4,8.7 0 1 0 113.9,137.5 A8.4,8.7 0 1 0 130.7,137.5 Z" fill="none" stroke-linecap="round" stroke-linejoin="round" stroke="#fae878" stroke-width="1.7" transform="translate(-0.5,-0.5)"/>
<path d="M133.3,118.9 V137.6 A9.7,8.8 0 0 0 152.7,137.6 M131.6,129.4 H139.5" fill="none" stroke-linecap="round" stroke-linejoin="round" stroke="#705c06" stroke-width="7.6"/>
<path d="M133.3,118.9 V137.6 A9.7,8.8 0 0 0 152.7,137.6 M131.6,129.4 H139.5" fill="none" stroke-linecap="round" stroke-linejoin="round" stroke="#f1d43c" stroke-width="4.3"/>
<path d="M133.3,118.9 V137.6 A9.7,8.8 0 0 0 152.7,137.6 M131.6,129.4 H139.5" fill="none" stroke-linecap="round" stroke-linejoin="round" stroke="#fae878" stroke-width="1.7" transform="translate(-0.5,-0.5)"/>
<path d="M152.7,118.9 V138.4 A8.9,8 0 0 0 170.2,140.6 M151.4,129.4 H159.3" fill="none" stroke-linecap="round" stroke-linejoin="round" stroke="#705c06" stroke-width="7.6"/>
<path d="M152.7,118.9 V138.4 A8.9,8 0 0 0 170.2,140.6 M151.4,129.4 H159.3" fill="none" stroke-linecap="round" stroke-linejoin="round" stroke="#f1d43c" stroke-width="4.3"/>
<path d="M152.7,118.9 V138.4 A8.9,8 0 0 0 170.2,140.6 M151.4,129.4 H159.3" fill="none" stroke-linecap="round" stroke-linejoin="round" stroke="#fae878" stroke-width="1.7" transform="translate(-0.5,-0.5)"/>
<path d="M193,129 V138.4 A8.7,8 0 0 0 210.4,138.4 V129 M210.4,129 V137.4 A9.05,9 0 0 0 228.5,137.4 V129" fill="none" stroke-linecap="round" stroke-linejoin="round" stroke="#705c06" stroke-width="7.6"/>
<path d="M193,129 V138.4 A8.7,8 0 0 0 210.4,138.4 V129 M210.4,129 V137.4 A9.05,9 0 0 0 228.5,137.4 V129" fill="none" stroke-linecap="round" stroke-linejoin="round" stroke="#f1d43c" stroke-width="4.3"/>
<path d="M193,129 V138.4 A8.7,8 0 0 0 210.4,138.4 V129 M210.4,129 V137.4 A9.05,9 0 0 0 228.5,137.4 V129" fill="none" stroke-linecap="round" stroke-linejoin="round" stroke="#fae878" stroke-width="1.7" transform="translate(-0.5,-0.5)"/>
<path d="M232.9,137.3 H250.2 A8.7,8.7 0 1 0 241.5,146 H249.4" fill="none" stroke-linecap="round" stroke-linejoin="round" stroke="#705c06" stroke-width="7.6"/>
<path d="M232.9,137.3 H250.2 A8.7,8.7 0 1 0 241.5,146 H249.4" fill="none" stroke-linecap="round" stroke-linejoin="round" stroke="#f1d43c" stroke-width="4.3"/>
<path d="M232.9,137.3 H250.2 A8.7,8.7 0 1 0 241.5,146 H249.4" fill="none" stroke-linecap="round" stroke-linejoin="round" stroke="#fae878" stroke-width="1.7" transform="translate(-0.5,-0.5)"/>
<path d="M253.3,119.2 V143 Q253.3,146.4 256.6,146.4" fill="none" stroke-linecap="round" stroke-linejoin="round" stroke="#705c06" stroke-width="7.6"/>
<path d="M253.3,119.2 V143 Q253.3,146.4 256.6,146.4" fill="none" stroke-linecap="round" stroke-linejoin="round" stroke="#f1d43c" stroke-width="4.3"/>
<path d="M253.3,119.2 V143 Q253.3,146.4 256.6,146.4" fill="none" stroke-linecap="round" stroke-linejoin="round" stroke="#fae878" stroke-width="1.7" transform="translate(-0.5,-0.5)"/>
<path d="M261.2,119.2 V143 Q261.2,146.4 264.5,146.4" fill="none" stroke-linecap="round" stroke-linejoin="round" stroke="#705c06" stroke-width="7.6"/>
<path d="M261.2,119.2 V143 Q261.2,146.4 264.5,146.4" fill="none" stroke-linecap="round" stroke-linejoin="round" stroke="#f1d43c" stroke-width="4.3"/>
<path d="M261.2,119.2 V143 Q261.2,146.4 264.5,146.4" fill="none" stroke-linecap="round" stroke-linejoin="round" stroke="#fae878" stroke-width="1.7" transform="translate(-0.5,-0.5)"/>
<path d="M269.7,137.3 H287 A8.7,8.7 0 1 0 278.3,146 H286.2" fill="none" stroke-linecap="round" stroke-linejoin="round" stroke="#705c06" stroke-width="7.6"/>
<path d="M269.7,137.3 H287 A8.7,8.7 0 1 0 278.3,146 H286.2" fill="none" stroke-linecap="round" stroke-linejoin="round" stroke="#f1d43c" stroke-width="4.3"/>
<path d="M269.7,137.3 H287 A8.7,8.7 0 1 0 278.3,146 H286.2" fill="none" stroke-linecap="round" stroke-linejoin="round" stroke="#fae878" stroke-width="1.7" transform="translate(-0.5,-0.5)"/>
<path d="M293,146.4 V129 M293,136.1 A7.6,7.6 0 0 1 308.2,136.1 V146.4" fill="none" stroke-linecap="round" stroke-linejoin="round" stroke="#705c06" stroke-width="7.6"/>
<path d="M293,146.4 V129 M293,136.1 A7.6,7.6 0 0 1 308.2,136.1 V146.4" fill="none" stroke-linecap="round" stroke-linejoin="round" stroke="#f1d43c" stroke-width="4.3"/>
<path d="M293,146.4 V129 M293,136.1 A7.6,7.6 0 0 1 308.2,136.1 V146.4" fill="none" stroke-linecap="round" stroke-linejoin="round" stroke="#fae878" stroke-width="1.7" transform="translate(-0.5,-0.5)"/>
<path d="M144.6,162.9 A11.3,11.3 0 1 0 122,162.9 A11.3,11.3 0 1 0 144.6,162.9 Z" fill="none" stroke-linecap="round" stroke-linejoin="round" stroke="#156a9e" stroke-width="8.9"/>
<path d="M144.6,162.9 A11.3,11.3 0 1 0 122,162.9 A11.3,11.3 0 1 0 144.6,162.9 Z" fill="none" stroke-linecap="round" stroke-linejoin="round" stroke="#70bee6" stroke-width="5.9"/>
<path d="M144.6,162.9 A11.3,11.3 0 1 0 122,162.9 A11.3,11.3 0 1 0 144.6,162.9 Z" fill="none" stroke-linecap="round" stroke-linejoin="round" stroke="#98d4f0" stroke-width="2.4" transform="translate(-0.6,-0.7)"/>
<path d="M150.5,174.2 V152 M150.5,162.6 A10.25,11 0 0 1 171,162.6 V174.2" fill="none" stroke-linecap="round" stroke-linejoin="round" stroke="#156a9e" stroke-width="8.9"/>
<path d="M150.5,174.2 V152 M150.5,162.6 A10.25,11 0 0 1 171,162.6 V174.2" fill="none" stroke-linecap="round" stroke-linejoin="round" stroke="#70bee6" stroke-width="5.9"/>
<path d="M150.5,174.2 V152 M150.5,162.6 A10.25,11 0 0 1 171,162.6 V174.2" fill="none" stroke-linecap="round" stroke-linejoin="round" stroke="#98d4f0" stroke-width="2.4" transform="translate(-0.6,-0.7)"/>
<path d="M198.1,162.9 A11.3,11.3 0 1 0 175.5,162.9 A11.3,11.3 0 1 0 198.1,162.9 Z" fill="none" stroke-linecap="round" stroke-linejoin="round" stroke="#156a9e" stroke-width="8.9"/>
<path d="M198.1,162.9 A11.3,11.3 0 1 0 175.5,162.9 A11.3,11.3 0 1 0 198.1,162.9 Z" fill="none" stroke-linecap="round" stroke-linejoin="round" stroke="#70bee6" stroke-width="5.9"/>
<path d="M198.1,162.9 A11.3,11.3 0 1 0 175.5,162.9 A11.3,11.3 0 1 0 198.1,162.9 Z" fill="none" stroke-linecap="round" stroke-linejoin="round" stroke="#98d4f0" stroke-width="2.4" transform="translate(-0.6,-0.7)"/>
<path d="M202.1,139.9 V174.2" fill="none" stroke-linecap="round" stroke-linejoin="round" stroke="#156a9e" stroke-width="8.9"/>
<path d="M202.1,139.9 V174.2" fill="none" stroke-linecap="round" stroke-linejoin="round" stroke="#70bee6" stroke-width="5.9"/>
<path d="M202.1,139.9 V174.2" fill="none" stroke-linecap="round" stroke-linejoin="round" stroke="#98d4f0" stroke-width="2.4" transform="translate(-0.6,-0.7)"/>
<path d="M209.8,151.6 V162.5 A11.7,11.7 0 0 0 233.2,162.5 M233.2,151.6 V185.6 A11.4,11 0 0 1 210.5,187.2" fill="none" stroke-linecap="round" stroke-linejoin="round" stroke="#156a9e" stroke-width="8.9"/>
<path d="M209.8,151.6 V162.5 A11.7,11.7 0 0 0 233.2,162.5 M233.2,151.6 V185.6 A11.4,11 0 0 1 210.5,187.2" fill="none" stroke-linecap="round" stroke-linejoin="round" stroke="#70bee6" stroke-width="5.9"/>
<path d="M209.8,151.6 V162.5 A11.7,11.7 0 0 0 233.2,162.5 M233.2,151.6 V185.6 A11.4,11 0 0 1 210.5,187.2" fill="none" stroke-linecap="round" stroke-linejoin="round" stroke="#98d4f0" stroke-width="2.4" transform="translate(-0.6,-0.7)"/>
<path d="M255.6,157.8 C254.5,149.4 240.6,149.2 240.3,157.2 C240,163.8 255.9,162.2 255.8,168.8 C255.6,176.8 241.4,176.6 240.1,168.4" fill="none" stroke-linecap="round" stroke-linejoin="round" stroke="#156a9e" stroke-width="8.9"/>
<path d="M255.6,157.8 C254.5,149.4 240.6,149.2 240.3,157.2 C240,163.8 255.9,162.2 255.8,168.8 C255.6,176.8 241.4,176.6 240.1,168.4" fill="none" stroke-linecap="round" stroke-linejoin="round" stroke="#70bee6" stroke-width="5.9"/>
<path d="M255.6,157.8 C254.5,149.4 240.6,149.2 240.3,157.2 C240,163.8 255.9,162.2 255.8,168.8 C255.6,176.8 241.4,176.6 240.1,168.4" fill="none" stroke-linecap="round" stroke-linejoin="round" stroke="#98d4f0" stroke-width="2.4" transform="translate(-0.6,-0.7)"/>
<path d="M264.8,163 H285.4 A10.3,11.3 0 1 0 275.1,174.2 H290" fill="none" stroke-linecap="round" stroke-linejoin="round" stroke="#156a9e" stroke-width="8.9"/>
<path d="M264.8,163 H285.4 A10.3,11.3 0 1 0 275.1,174.2 H290" fill="none" stroke-linecap="round" stroke-linejoin="round" stroke="#70bee6" stroke-width="5.9"/>
<path d="M264.8,163 H285.4 A10.3,11.3 0 1 0 275.1,174.2 H290" fill="none" stroke-linecap="round" stroke-linejoin="round" stroke="#98d4f0" stroke-width="2.4" transform="translate(-0.6,-0.7)"/>
<path d="M293.8,174.2 V152 M293.8,162.8 A8.85,11.2 0 0 1 311.5,162.8 V174.2" fill="none" stroke-linecap="round" stroke-linejoin="round" stroke="#156a9e" stroke-width="8.9"/>
<path d="M293.8,174.2 V152 M293.8,162.8 A8.85,11.2 0 0 1 311.5,162.8 V174.2" fill="none" stroke-linecap="round" stroke-linejoin="round" stroke="#70bee6" stroke-width="5.9"/>
<path d="M293.8,174.2 V152 M293.8,162.8 A8.85,11.2 0 0 1 311.5,162.8 V174.2" fill="none" stroke-linecap="round" stroke-linejoin="round" stroke="#98d4f0" stroke-width="2.4" transform="translate(-0.6,-0.7)"/>
</svg>
</body></html>
